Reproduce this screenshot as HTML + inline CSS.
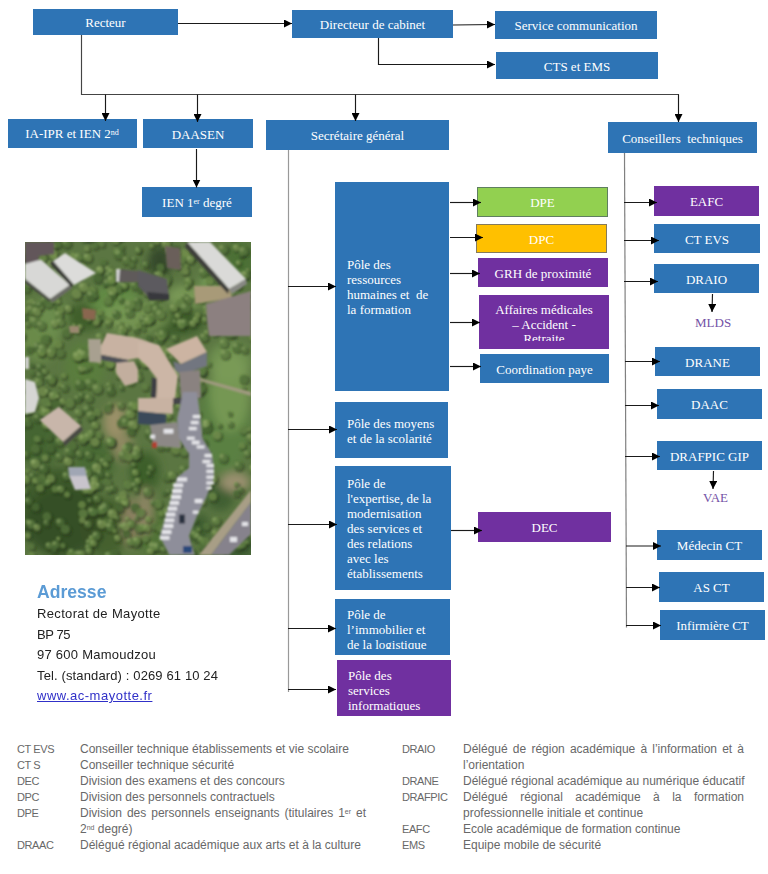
<!DOCTYPE html>
<html><head><meta charset="utf-8">
<style>
html,body{margin:0;padding:0;background:#fff;}
body{width:768px;height:874px;position:relative;overflow:hidden;}
.b{position:absolute;background:#2e74b5;color:#fff;font-family:"Liberation Serif",serif;font-size:13px;display:flex;align-items:center;justify-content:center;text-align:center;white-space:pre;box-sizing:border-box;padding-top:2px;}
.p{background:#7030a0;}
.m{position:absolute;color:#fff;font-family:"Liberation Serif",serif;font-size:13px;line-height:15px;white-space:pre;box-sizing:border-box;background:#2e74b5;overflow:hidden;}
sup{font-size:8px;vertical-align:top;position:relative;top:-2px;}
svg.l{position:absolute;left:0;top:0;}
.lab{position:absolute;color:#7452a6;font-family:"Liberation Serif",serif;font-size:13px;white-space:pre;}
.addr{position:absolute;font-family:"Liberation Sans",sans-serif;color:#222;white-space:pre;}
.lg{position:absolute;font-family:"Liberation Sans",sans-serif;color:#686868;font-size:12px;line-height:16px;white-space:pre;}
.lg.j{white-space:normal;text-align:justify;text-align-last:justify;}
.lg sup{font-size:7px;top:-1px;}
</style></head><body>

<!-- top row -->
<div class="b" style="left:33px;top:9px;width:145px;height:26px;">Recteur</div>
<div class="b" style="left:292px;top:10px;width:161px;height:28px;">Directeur de cabinet</div>
<div class="b" style="left:495px;top:11px;width:162px;height:28px;">Service communication</div>
<div class="b" style="left:496px;top:52px;width:162px;height:27px;">CTS et EMS</div>

<div class="b" style="left:7.5px;top:119px;width:129px;height:28.5px;">IA-IPR et IEN 2<sup>nd</sup></div>
<div class="b" style="left:143px;top:119px;width:110px;height:29px;">DAASEN</div>
<div class="b" style="left:142px;top:187px;width:110px;height:30px;">IEN 1<sup>er</sup> degré</div>
<div class="b" style="left:266px;top:120px;width:183px;height:30px;">Secrétaire général</div>
<div class="b" style="left:608px;top:122px;width:149px;height:31px;">Conseillers  techniques</div>

<!-- poles -->
<div class="m" style="left:335px;top:182px;width:114px;height:209px;padding:75px 0 0 12px;">Pôle des
ressources
humaines et  de
la formation</div>
<div class="m" style="left:335px;top:401.5px;width:113px;height:56.5px;padding:14px 0 0 12px;">Pôle des moyens
et de la scolarité</div>
<div class="m" style="left:335px;top:465.5px;width:116px;height:124.5px;padding:10px 0 0 12px;">Pôle de
l'expertise, de la
modernisation
des services et
des relations
avec les
établissements</div>
<div class="m" style="left:335px;top:599px;width:115px;height:56px;padding:8px 0 0 12px;"><div style="height:41.5px;overflow:hidden;">Pôle de
l’immobilier et
de la logistique</div></div>
<div class="m" style="left:337px;top:660px;width:114px;height:56px;padding:8px 0 0 11px;background:#7030a0;"><div style="height:42.5px;overflow:hidden;">Pôle des
services
informatiques</div></div>

<!-- RH sub boxes -->
<div class="b" style="left:477px;top:187px;width:131px;height:30px;background:#92d050;border:1px solid #5f7f60;">DPE</div>
<div class="b" style="left:476px;top:224px;width:131px;height:29px;background:#ffc000;border:1px solid #857a5a;">DPC</div>
<div class="b p" style="left:478px;top:258px;width:130px;height:29px;">GRH de proximité</div>
<div class="m" style="left:479px;top:295px;width:130px;height:54px;padding:8px 0 0 0;text-align:center;background:#7030a0;line-height:14.5px;"><div style="height:38px;overflow:hidden;">Affaires médicales
– Accident -
Retraite</div></div>
<div class="b" style="left:480px;top:354px;width:129px;height:29px;">Coordination paye</div>
<div class="b p" style="left:478px;top:512px;width:133px;height:30px;">DEC</div>

<!-- CT column -->
<div class="b p" style="left:654px;top:186px;width:105px;height:30px;">EAFC</div>
<div class="b" style="left:654px;top:224px;width:106px;height:29px;">CT EVS</div>
<div class="b" style="left:654px;top:264px;width:105px;height:29px;">DRAIO</div>
<div class="lab" style="left:695px;top:315px;">MLDS</div>
<div class="b" style="left:655px;top:347px;width:105px;height:29px;">DRANE</div>
<div class="b" style="left:657px;top:389px;width:105px;height:30px;">DAAC</div>
<div class="b" style="left:657px;top:441px;width:105px;height:29px;">DRAFPIC GIP</div>
<div class="lab" style="left:703px;top:490px;">VAE</div>
<div class="b" style="left:657px;top:530px;width:105px;height:30px;">Médecin CT</div>
<div class="b" style="left:659px;top:572px;width:105px;height:30px;">AS CT</div>
<div class="b" style="left:660px;top:610px;width:105px;height:30px;">Infirmière CT</div>

<!-- lines -->
<svg class="l" width="768" height="874">
<defs><marker id="a" markerWidth="8" markerHeight="8" refX="8" refY="4" orient="auto" markerUnits="userSpaceOnUse"><path d="M0,0 L8,4 L0,8 z" fill="#000"/></marker></defs>
<g stroke="#1a1a1a" stroke-width="1.15" fill="none">
<line x1="178" y1="23.5" x2="292" y2="23.5" marker-end="url(#a)"/>
<line x1="453" y1="25" x2="495" y2="24.5" marker-end="url(#a)"/>
<polyline points="378.5,38 378.5,64.5 495,64.5" marker-end="url(#a)"/>
<polyline points="81.5,35 81.5,94.5 679,94.5" stroke="#444"/>
<line x1="105.5" y1="94.5" x2="105.5" y2="121" marker-end="url(#a)"/>
<line x1="197.5" y1="94.5" x2="197.5" y2="122" marker-end="url(#a)"/>
<line x1="355.5" y1="94.5" x2="355.5" y2="121" marker-end="url(#a)"/>
<line x1="678.5" y1="94.5" x2="678.5" y2="122" marker-end="url(#a)"/>
<line x1="196.5" y1="149" x2="196.5" y2="187.5" marker-end="url(#a)"/>
</g>
<g stroke="#999" stroke-width="1.2" fill="none">
<line x1="288.5" y1="150" x2="288.5" y2="692"/>
</g>
<g stroke="#1a1a1a" stroke-width="1.15" fill="none">
<line x1="288" y1="286.5" x2="336" y2="286.5" marker-end="url(#a)"/>
<line x1="288" y1="429.5" x2="337" y2="429.5" marker-end="url(#a)"/>
<line x1="288" y1="524.5" x2="337" y2="524.5" marker-end="url(#a)"/>
<line x1="288" y1="628.5" x2="336" y2="628.5" marker-end="url(#a)"/>
<line x1="288" y1="689.5" x2="336" y2="689.5" marker-end="url(#a)"/>
<line x1="450" y1="202.5" x2="481" y2="202.5" marker-end="url(#a)"/>
<line x1="450" y1="237.5" x2="483" y2="237.5" marker-end="url(#a)"/>
<line x1="450" y1="273.5" x2="480" y2="273.5" marker-end="url(#a)"/>
<line x1="450" y1="322.5" x2="480" y2="322.5" marker-end="url(#a)"/>
<line x1="450" y1="366.5" x2="481" y2="366.5" marker-end="url(#a)"/>
<line x1="451" y1="530.5" x2="482" y2="530.5" marker-end="url(#a)"/>
</g>
<g stroke="#808080" stroke-width="1.2" fill="none">
<line x1="624.5" y1="153" x2="626.5" y2="627.5"/>
</g>
<g stroke="#1a1a1a" stroke-width="1.15" fill="none">
<line x1="624" y1="202.5" x2="657" y2="202.5" marker-end="url(#a)"/>
<line x1="624" y1="240.5" x2="659" y2="240.5" marker-end="url(#a)"/>
<line x1="624" y1="281.5" x2="658" y2="281.5" marker-end="url(#a)"/>
<line x1="625" y1="361.5" x2="660" y2="361.5" marker-end="url(#a)"/>
<line x1="625" y1="405.5" x2="659" y2="405.5" marker-end="url(#a)"/>
<line x1="625" y1="456.5" x2="660" y2="456.5" marker-end="url(#a)"/>
<line x1="626" y1="546" x2="661" y2="546" marker-end="url(#a)"/>
<line x1="626" y1="587.5" x2="660" y2="587.5" marker-end="url(#a)"/>
<line x1="626" y1="625.5" x2="661" y2="625.5" marker-end="url(#a)"/>
<line x1="712.5" y1="294" x2="712" y2="312" marker-end="url(#a)"/>
<line x1="713.5" y1="471" x2="713" y2="489" marker-end="url(#a)"/>
</g>
</svg>

<!-- photo placeholder -->
<svg id="photo" style="position:absolute;left:25px;top:242px;" width="226" height="313" viewBox="0 0 226 313">
<defs><filter id="bl" x="-5%" y="-5%" width="110%" height="110%"><feGaussianBlur stdDeviation="0.8"/></filter>
<filter id="bl3" x="-5%" y="-5%" width="110%" height="110%"><feGaussianBlur stdDeviation="1.1"/></filter>
<filter id="bl2" x="-20%" y="-20%" width="140%" height="140%"><feGaussianBlur stdDeviation="4"/></filter>
<clipPath id="cp"><rect width="226" height="313"/></clipPath></defs>
<g clip-path="url(#cp)">
<rect width="226" height="313" fill="#5b7642"/>
<g filter="url(#bl2)">
<!-- vegetation tonal patches -->
<ellipse cx="35" cy="270" rx="40" ry="45" fill="#3c5a2a"/>
<ellipse cx="80" cy="285" rx="25" ry="30" fill="#45602e"/>
<ellipse cx="15" cy="200" rx="22" ry="25" fill="#446530"/>
<ellipse cx="15" cy="90" rx="20" ry="30" fill="#6a8a48"/>
<ellipse cx="60" cy="75" rx="18" ry="14" fill="#3f5f2c"/>
<ellipse cx="135" cy="20" rx="12" ry="16" fill="#34482a"/>
<ellipse cx="90" cy="60" rx="25" ry="18" fill="#628a44"/>
<ellipse cx="150" cy="80" rx="30" ry="14" fill="#3d5c2c"/>
<ellipse cx="60" cy="125" rx="20" ry="25" fill="#5a7d3e"/>
<ellipse cx="70" cy="220" rx="20" ry="22" fill="#4a6a34"/>
<ellipse cx="120" cy="230" rx="15" ry="20" fill="#3e5e2c"/>
<ellipse cx="125" cy="285" rx="14" ry="25" fill="#4f7236"/>
<ellipse cx="200" cy="180" rx="26" ry="50" fill="#5a8042"/>
<ellipse cx="205" cy="120" rx="22" ry="20" fill="#6e9050"/>
<ellipse cx="185" cy="40" rx="10" ry="12" fill="#749a56"/>
<ellipse cx="215" cy="20" rx="15" ry="20" fill="#4c7036"/>
<ellipse cx="195" cy="255" rx="14" ry="14" fill="#3f5e30"/>
<ellipse cx="175" cy="285" rx="10" ry="14" fill="#3f5e30"/>
<ellipse cx="212" cy="305" rx="18" ry="14" fill="#3e5c30"/>
<ellipse cx="90" cy="180" rx="12" ry="18" fill="#9a9068"/>
<ellipse cx="98" cy="205" rx="10" ry="14" fill="#8e8862"/>
<ellipse cx="105" cy="280" rx="8" ry="25" fill="#8a8060"/>
<ellipse cx="120" cy="270" rx="8" ry="25" fill="#8a8462"/>
<ellipse cx="210" cy="240" rx="15" ry="10" fill="#9a9070"/>
<ellipse cx="110" cy="75" rx="35" ry="16" fill="#7a9a56" opacity="0.8"/>
<ellipse cx="160" cy="55" rx="18" ry="12" fill="#80a05a" opacity="0.8"/>
<ellipse cx="205" cy="150" rx="20" ry="40" fill="#7c9c58" opacity="0.8"/>
<ellipse cx="40" cy="280" rx="40" ry="35" fill="#334a26" opacity="0.7"/>
<ellipse cx="25" cy="75" rx="18" ry="20" fill="#6e8e50" opacity="0.7"/>

</g>
<g filter="url(#bl3)"><circle cx="143.4" cy="236.3" r="5.3" fill="#223018" opacity="0.45"/><circle cx="106.3" cy="301.4" r="4.8" fill="#223018" opacity="0.45"/><circle cx="209.0" cy="33.3" r="4.1" fill="#223018" opacity="0.45"/><circle cx="54.6" cy="172.3" r="4.5" fill="#223018" opacity="0.45"/><circle cx="-0.5" cy="66.7" r="3.5" fill="#223018" opacity="0.45"/><circle cx="212.7" cy="244.0" r="3.1" fill="#223018" opacity="0.45"/><circle cx="-3.2" cy="278.2" r="3.2" fill="#223018" opacity="0.45"/><circle cx="47.3" cy="314.0" r="5.6" fill="#223018" opacity="0.45"/><circle cx="64.7" cy="307.3" r="4.4" fill="#223018" opacity="0.45"/><circle cx="156.4" cy="62.8" r="5.8" fill="#223018" opacity="0.45"/><circle cx="159.4" cy="308.9" r="5.6" fill="#223018" opacity="0.45"/><circle cx="66.9" cy="113.4" r="3.1" fill="#223018" opacity="0.45"/><circle cx="30.8" cy="17.7" r="3.6" fill="#223018" opacity="0.45"/><circle cx="138.7" cy="-2.2" r="4.9" fill="#223018" opacity="0.45"/><circle cx="76.1" cy="96.8" r="5.4" fill="#223018" opacity="0.45"/><circle cx="109.9" cy="98.7" r="4.2" fill="#223018" opacity="0.45"/><circle cx="162.7" cy="15.1" r="5.9" fill="#223018" opacity="0.45"/><circle cx="1.8" cy="238.9" r="5.5" fill="#223018" opacity="0.45"/><circle cx="0.7" cy="251.1" r="3.8" fill="#223018" opacity="0.45"/><circle cx="132.9" cy="-0.4" r="2.7" fill="#223018" opacity="0.45"/><circle cx="39.1" cy="305.2" r="3.2" fill="#223018" opacity="0.45"/><circle cx="174.8" cy="297.0" r="5.8" fill="#223018" opacity="0.45"/><circle cx="77.7" cy="111.3" r="4.3" fill="#223018" opacity="0.45"/><circle cx="179.4" cy="31.6" r="5.1" fill="#223018" opacity="0.45"/><circle cx="199.3" cy="8.5" r="5.8" fill="#223018" opacity="0.45"/><circle cx="17.9" cy="106.8" r="4.6" fill="#223018" opacity="0.45"/><circle cx="213.1" cy="106.5" r="5.7" fill="#223018" opacity="0.45"/><circle cx="125.1" cy="97.6" r="3.6" fill="#223018" opacity="0.45"/><circle cx="38.3" cy="22.0" r="3.0" fill="#223018" opacity="0.45"/><circle cx="159.0" cy="318.6" r="3.1" fill="#223018" opacity="0.45"/><circle cx="7.9" cy="315.4" r="4.4" fill="#223018" opacity="0.45"/><circle cx="92.2" cy="73.4" r="4.6" fill="#223018" opacity="0.45"/><circle cx="212.6" cy="7.3" r="4.2" fill="#223018" opacity="0.45"/><circle cx="194.3" cy="38.9" r="5.1" fill="#223018" opacity="0.45"/><circle cx="145.2" cy="251.2" r="2.9" fill="#223018" opacity="0.45"/><circle cx="99.0" cy="44.9" r="5.5" fill="#223018" opacity="0.45"/><circle cx="66.0" cy="143.1" r="6.0" fill="#223018" opacity="0.45"/><circle cx="197.5" cy="312.0" r="4.1" fill="#223018" opacity="0.45"/><circle cx="111.6" cy="232.3" r="4.2" fill="#223018" opacity="0.45"/><circle cx="65.1" cy="127.1" r="3.0" fill="#223018" opacity="0.45"/><circle cx="85.4" cy="315.9" r="5.9" fill="#223018" opacity="0.45"/><circle cx="144.4" cy="158.0" r="3.7" fill="#223018" opacity="0.45"/><circle cx="17.4" cy="84.7" r="5.2" fill="#223018" opacity="0.45"/><circle cx="201.1" cy="113.4" r="5.3" fill="#223018" opacity="0.45"/><circle cx="160.3" cy="211.2" r="5.2" fill="#223018" opacity="0.45"/><circle cx="82.2" cy="224.2" r="3.5" fill="#223018" opacity="0.45"/><circle cx="111.0" cy="245.3" r="4.9" fill="#223018" opacity="0.45"/><circle cx="65.7" cy="302.1" r="4.8" fill="#223018" opacity="0.45"/><circle cx="133.4" cy="0.4" r="4.4" fill="#223018" opacity="0.45"/><circle cx="55.6" cy="213.6" r="4.1" fill="#223018" opacity="0.45"/><circle cx="148.4" cy="235.0" r="5.4" fill="#223018" opacity="0.45"/><circle cx="79.0" cy="269.0" r="5.5" fill="#223018" opacity="0.45"/><circle cx="158.8" cy="312.0" r="5.8" fill="#223018" opacity="0.45"/><circle cx="118.7" cy="167.7" r="3.1" fill="#223018" opacity="0.45"/><circle cx="193.8" cy="299.5" r="4.2" fill="#223018" opacity="0.45"/><circle cx="159.6" cy="229.2" r="5.1" fill="#223018" opacity="0.45"/><circle cx="37.0" cy="248.8" r="4.5" fill="#223018" opacity="0.45"/><circle cx="153.5" cy="132.6" r="4.7" fill="#223018" opacity="0.45"/><circle cx="179.2" cy="202.4" r="5.0" fill="#223018" opacity="0.45"/><circle cx="2.9" cy="48.4" r="4.0" fill="#223018" opacity="0.45"/><circle cx="149.8" cy="67.4" r="4.9" fill="#223018" opacity="0.45"/><circle cx="145.3" cy="10.2" r="4.2" fill="#223018" opacity="0.45"/><circle cx="49.8" cy="14.2" r="3.0" fill="#223018" opacity="0.45"/><circle cx="71.3" cy="55.3" r="3.2" fill="#223018" opacity="0.45"/><circle cx="4.8" cy="147.0" r="3.8" fill="#223018" opacity="0.45"/><circle cx="140.8" cy="187.3" r="3.3" fill="#223018" opacity="0.45"/><circle cx="209.6" cy="-3.1" r="3.9" fill="#223018" opacity="0.45"/><circle cx="62.1" cy="129.1" r="2.9" fill="#223018" opacity="0.45"/><circle cx="18.8" cy="172.8" r="3.7" fill="#223018" opacity="0.45"/><circle cx="133.5" cy="306.2" r="5.4" fill="#223018" opacity="0.45"/><circle cx="95.3" cy="259.3" r="4.7" fill="#223018" opacity="0.45"/><circle cx="83.6" cy="42.6" r="4.6" fill="#223018" opacity="0.45"/><circle cx="129.5" cy="305.9" r="5.9" fill="#223018" opacity="0.45"/><circle cx="140.0" cy="110.1" r="5.6" fill="#223018" opacity="0.45"/><circle cx="-3.4" cy="31.6" r="4.5" fill="#223018" opacity="0.45"/><circle cx="141.6" cy="42.1" r="4.7" fill="#223018" opacity="0.45"/><circle cx="65.2" cy="310.8" r="3.8" fill="#223018" opacity="0.45"/><circle cx="223.2" cy="291.8" r="4.6" fill="#223018" opacity="0.45"/><circle cx="57.7" cy="313.6" r="4.2" fill="#223018" opacity="0.45"/><circle cx="94.5" cy="99.8" r="5.9" fill="#223018" opacity="0.45"/><circle cx="112.5" cy="89.2" r="4.2" fill="#223018" opacity="0.45"/><circle cx="25.2" cy="197.5" r="4.1" fill="#223018" opacity="0.45"/><circle cx="65.6" cy="249.2" r="5.4" fill="#223018" opacity="0.45"/><circle cx="-0.5" cy="168.7" r="3.5" fill="#223018" opacity="0.45"/><circle cx="217.1" cy="249.3" r="3.4" fill="#223018" opacity="0.45"/><circle cx="59.6" cy="46.7" r="6.0" fill="#223018" opacity="0.45"/><circle cx="65.6" cy="193.1" r="4.2" fill="#223018" opacity="0.45"/><circle cx="148.6" cy="191.7" r="5.1" fill="#223018" opacity="0.45"/><circle cx="24.3" cy="242.3" r="3.6" fill="#223018" opacity="0.45"/><circle cx="122.3" cy="105.3" r="3.5" fill="#223018" opacity="0.45"/><circle cx="121.4" cy="146.7" r="3.8" fill="#223018" opacity="0.45"/><circle cx="172.2" cy="187.5" r="2.6" fill="#223018" opacity="0.45"/><circle cx="56.0" cy="143.9" r="5.7" fill="#223018" opacity="0.45"/><circle cx="206.0" cy="172.9" r="2.6" fill="#223018" opacity="0.45"/><circle cx="97.3" cy="182.6" r="5.0" fill="#223018" opacity="0.45"/><circle cx="145.6" cy="152.3" r="5.7" fill="#223018" opacity="0.45"/><circle cx="87.4" cy="123.3" r="5.5" fill="#223018" opacity="0.45"/><circle cx="42.8" cy="92.5" r="5.4" fill="#223018" opacity="0.45"/><circle cx="12.0" cy="266.8" r="4.9" fill="#223018" opacity="0.45"/><circle cx="98.5" cy="89.2" r="5.2" fill="#223018" opacity="0.45"/><circle cx="211.3" cy="42.8" r="4.2" fill="#223018" opacity="0.45"/><circle cx="126.0" cy="157.5" r="3.7" fill="#223018" opacity="0.45"/><circle cx="32.6" cy="185.9" r="5.3" fill="#223018" opacity="0.45"/><circle cx="12.5" cy="71.0" r="5.4" fill="#223018" opacity="0.45"/><circle cx="183.3" cy="211.0" r="2.6" fill="#223018" opacity="0.45"/><circle cx="166.9" cy="312.8" r="6.0" fill="#223018" opacity="0.45"/><circle cx="161.9" cy="12.5" r="5.4" fill="#223018" opacity="0.45"/><circle cx="48.1" cy="205.3" r="5.8" fill="#223018" opacity="0.45"/><circle cx="164.5" cy="40.2" r="3.5" fill="#223018" opacity="0.45"/><circle cx="213.0" cy="45.1" r="4.6" fill="#223018" opacity="0.45"/><circle cx="94.1" cy="48.8" r="4.7" fill="#223018" opacity="0.45"/><circle cx="6.7" cy="31.7" r="3.8" fill="#223018" opacity="0.45"/><circle cx="13.4" cy="15.3" r="4.5" fill="#223018" opacity="0.45"/><circle cx="171.6" cy="280.4" r="3.0" fill="#223018" opacity="0.45"/><circle cx="98.3" cy="98.3" r="4.6" fill="#223018" opacity="0.45"/><circle cx="111.9" cy="299.8" r="3.8" fill="#223018" opacity="0.45"/><circle cx="9.6" cy="221.9" r="3.0" fill="#223018" opacity="0.45"/><circle cx="145.4" cy="160.1" r="5.7" fill="#223018" opacity="0.45"/><circle cx="127.4" cy="197.2" r="3.4" fill="#223018" opacity="0.45"/><circle cx="126.6" cy="78.8" r="5.1" fill="#223018" opacity="0.45"/><circle cx="118.4" cy="39.9" r="3.3" fill="#223018" opacity="0.45"/><circle cx="84.0" cy="234.7" r="3.1" fill="#223018" opacity="0.45"/><circle cx="164.7" cy="208.3" r="2.8" fill="#223018" opacity="0.45"/><circle cx="154.0" cy="26.2" r="2.9" fill="#223018" opacity="0.45"/><circle cx="136.6" cy="73.8" r="5.6" fill="#223018" opacity="0.45"/><circle cx="109.8" cy="101.1" r="5.3" fill="#223018" opacity="0.45"/><circle cx="3.4" cy="230.9" r="2.7" fill="#223018" opacity="0.45"/><circle cx="32.0" cy="304.2" r="4.9" fill="#223018" opacity="0.45"/><circle cx="49.0" cy="34.2" r="5.9" fill="#223018" opacity="0.45"/><circle cx="153.4" cy="261.8" r="3.0" fill="#223018" opacity="0.45"/><circle cx="143.9" cy="111.1" r="3.3" fill="#223018" opacity="0.45"/><circle cx="75.1" cy="194.9" r="3.7" fill="#223018" opacity="0.45"/><circle cx="87.4" cy="40.8" r="5.4" fill="#223018" opacity="0.45"/><circle cx="149.3" cy="256.6" r="4.0" fill="#223018" opacity="0.45"/><circle cx="171.1" cy="124.4" r="2.8" fill="#223018" opacity="0.45"/><circle cx="4.2" cy="62.1" r="2.6" fill="#223018" opacity="0.45"/><circle cx="107.4" cy="284.1" r="4.7" fill="#223018" opacity="0.45"/><circle cx="97.6" cy="147.1" r="2.8" fill="#223018" opacity="0.45"/><circle cx="32.9" cy="48.1" r="3.8" fill="#223018" opacity="0.45"/><circle cx="87.4" cy="281.1" r="3.0" fill="#223018" opacity="0.45"/><circle cx="56.4" cy="86.3" r="3.1" fill="#223018" opacity="0.45"/><circle cx="64.1" cy="72.7" r="4.2" fill="#223018" opacity="0.45"/><circle cx="4.0" cy="295.3" r="3.8" fill="#223018" opacity="0.45"/><circle cx="219.5" cy="34.8" r="4.8" fill="#223018" opacity="0.45"/><circle cx="65.1" cy="214.6" r="5.1" fill="#223018" opacity="0.45"/><circle cx="34.9" cy="61.6" r="2.6" fill="#223018" opacity="0.45"/><circle cx="50.8" cy="22.0" r="3.9" fill="#223018" opacity="0.45"/><circle cx="63.2" cy="233.2" r="5.0" fill="#223018" opacity="0.45"/><circle cx="35.0" cy="74.4" r="4.9" fill="#223018" opacity="0.45"/><circle cx="218.4" cy="205.3" r="4.0" fill="#223018" opacity="0.45"/><circle cx="-2.1" cy="16.4" r="5.2" fill="#223018" opacity="0.45"/><circle cx="93.2" cy="11.2" r="4.4" fill="#223018" opacity="0.45"/><circle cx="13.2" cy="287.0" r="4.2" fill="#223018" opacity="0.45"/><circle cx="217.2" cy="14.1" r="3.4" fill="#223018" opacity="0.45"/><circle cx="8.3" cy="125.0" r="2.7" fill="#223018" opacity="0.45"/><circle cx="56.7" cy="128.3" r="3.6" fill="#223018" opacity="0.45"/><circle cx="8.5" cy="8.8" r="5.9" fill="#223018" opacity="0.45"/><circle cx="38.7" cy="161.0" r="3.9" fill="#223018" opacity="0.45"/><circle cx="121.8" cy="23.9" r="3.6" fill="#223018" opacity="0.45"/><circle cx="21.9" cy="171.7" r="5.7" fill="#223018" opacity="0.45"/><circle cx="137.6" cy="273.4" r="3.3" fill="#223018" opacity="0.45"/><circle cx="0.5" cy="171.0" r="4.2" fill="#223018" opacity="0.45"/><circle cx="131.3" cy="118.4" r="4.7" fill="#223018" opacity="0.45"/><circle cx="167.7" cy="291.6" r="3.6" fill="#223018" opacity="0.45"/><circle cx="102.4" cy="263.6" r="3.3" fill="#223018" opacity="0.45"/><circle cx="23.7" cy="97.4" r="2.8" fill="#223018" opacity="0.45"/><circle cx="178.7" cy="261.4" r="3.6" fill="#223018" opacity="0.45"/><circle cx="27.0" cy="23.2" r="3.4" fill="#223018" opacity="0.45"/><circle cx="16.3" cy="135.2" r="4.5" fill="#223018" opacity="0.45"/><circle cx="54.3" cy="16.5" r="5.0" fill="#223018" opacity="0.45"/><circle cx="7.7" cy="61.3" r="3.5" fill="#223018" opacity="0.45"/><circle cx="84.6" cy="28.5" r="4.0" fill="#223018" opacity="0.45"/><circle cx="70.5" cy="239.7" r="4.4" fill="#223018" opacity="0.45"/><circle cx="100.8" cy="260.5" r="4.8" fill="#223018" opacity="0.45"/><circle cx="36.4" cy="81.5" r="4.9" fill="#223018" opacity="0.45"/><circle cx="63.8" cy="17.2" r="5.2" fill="#223018" opacity="0.45"/><circle cx="127.9" cy="5.6" r="2.7" fill="#223018" opacity="0.45"/><circle cx="27.1" cy="112.1" r="5.5" fill="#223018" opacity="0.45"/><circle cx="81.9" cy="103.4" r="2.5" fill="#223018" opacity="0.45"/><circle cx="134.3" cy="263.8" r="5.0" fill="#223018" opacity="0.45"/><circle cx="18.9" cy="168.0" r="3.1" fill="#223018" opacity="0.45"/><circle cx="163.8" cy="140.8" r="5.8" fill="#223018" opacity="0.45"/><circle cx="184.0" cy="34.9" r="3.6" fill="#223018" opacity="0.45"/><circle cx="105.2" cy="136.9" r="4.0" fill="#223018" opacity="0.45"/><circle cx="177.5" cy="299.1" r="4.4" fill="#223018" opacity="0.45"/><circle cx="225.2" cy="189.2" r="2.9" fill="#223018" opacity="0.45"/><circle cx="95.4" cy="13.6" r="5.9" fill="#223018" opacity="0.45"/><circle cx="4.2" cy="183.1" r="4.2" fill="#223018" opacity="0.45"/><circle cx="43.9" cy="178.4" r="3.7" fill="#223018" opacity="0.45"/><circle cx="173.7" cy="74.7" r="3.7" fill="#223018" opacity="0.45"/><circle cx="55.0" cy="314.0" r="5.4" fill="#223018" opacity="0.45"/><circle cx="19.7" cy="228.5" r="5.7" fill="#223018" opacity="0.45"/><circle cx="43.4" cy="254.1" r="3.6" fill="#223018" opacity="0.45"/><circle cx="157.6" cy="275.5" r="4.7" fill="#223018" opacity="0.45"/><circle cx="134.9" cy="56.4" r="3.9" fill="#223018" opacity="0.45"/><circle cx="71.3" cy="5.4" r="3.6" fill="#223018" opacity="0.45"/><circle cx="86.7" cy="150.5" r="5.0" fill="#223018" opacity="0.45"/><circle cx="90.6" cy="314.0" r="5.4" fill="#223018" opacity="0.45"/><circle cx="119.6" cy="88.5" r="2.8" fill="#223018" opacity="0.45"/><circle cx="17.0" cy="111.6" r="4.5" fill="#223018" opacity="0.45"/><circle cx="175.7" cy="227.5" r="3.6" fill="#223018" opacity="0.45"/><circle cx="215.7" cy="85.4" r="5.0" fill="#223018" opacity="0.45"/><circle cx="13.4" cy="240.0" r="4.8" fill="#223018" opacity="0.45"/><circle cx="222.2" cy="286.5" r="4.9" fill="#223018" opacity="0.45"/><circle cx="118.3" cy="286.2" r="3.3" fill="#223018" opacity="0.45"/><circle cx="88.5" cy="54.2" r="4.8" fill="#223018" opacity="0.45"/><circle cx="208.7" cy="290.7" r="4.6" fill="#223018" opacity="0.45"/><circle cx="87.7" cy="31.9" r="4.9" fill="#223018" opacity="0.45"/><circle cx="127.0" cy="227.7" r="3.8" fill="#223018" opacity="0.45"/><circle cx="205.7" cy="65.4" r="3.6" fill="#223018" opacity="0.45"/><circle cx="59.6" cy="197.7" r="5.6" fill="#223018" opacity="0.45"/><circle cx="35.9" cy="201.1" r="5.2" fill="#223018" opacity="0.45"/><circle cx="49.4" cy="16.9" r="4.5" fill="#223018" opacity="0.45"/><circle cx="192.3" cy="280.5" r="5.0" fill="#223018" opacity="0.45"/><circle cx="94.8" cy="134.1" r="4.4" fill="#223018" opacity="0.45"/><circle cx="209.9" cy="94.4" r="3.5" fill="#223018" opacity="0.45"/><circle cx="139.3" cy="308.9" r="3.2" fill="#223018" opacity="0.45"/><circle cx="3.6" cy="34.0" r="4.5" fill="#223018" opacity="0.45"/><circle cx="138.8" cy="56.1" r="3.2" fill="#223018" opacity="0.45"/><circle cx="136.7" cy="205.5" r="4.9" fill="#223018" opacity="0.45"/><circle cx="168.4" cy="16.5" r="4.2" fill="#223018" opacity="0.45"/><circle cx="193.4" cy="305.9" r="3.6" fill="#223018" opacity="0.45"/><circle cx="160.8" cy="268.3" r="4.2" fill="#223018" opacity="0.45"/><circle cx="20.2" cy="59.2" r="3.0" fill="#223018" opacity="0.45"/><circle cx="18.3" cy="45.8" r="4.7" fill="#223018" opacity="0.45"/><circle cx="21.2" cy="241.6" r="5.1" fill="#223018" opacity="0.45"/><circle cx="189.1" cy="256.3" r="5.0" fill="#223018" opacity="0.45"/><circle cx="214.5" cy="305.8" r="4.7" fill="#223018" opacity="0.45"/><circle cx="224.2" cy="30.1" r="2.9" fill="#223018" opacity="0.45"/><circle cx="11.6" cy="63.4" r="3.8" fill="#223018" opacity="0.45"/><circle cx="104.6" cy="216.5" r="5.1" fill="#223018" opacity="0.45"/><circle cx="16.2" cy="126.9" r="4.4" fill="#223018" opacity="0.45"/><circle cx="84.9" cy="34.7" r="4.6" fill="#223018" opacity="0.45"/><circle cx="84.8" cy="217.5" r="4.2" fill="#223018" opacity="0.45"/><circle cx="223.6" cy="301.9" r="2.8" fill="#223018" opacity="0.45"/><circle cx="175.7" cy="229.7" r="3.5" fill="#223018" opacity="0.45"/><circle cx="24.0" cy="151.4" r="3.7" fill="#223018" opacity="0.45"/><circle cx="170.4" cy="293.3" r="3.8" fill="#223018" opacity="0.45"/><circle cx="65.0" cy="157.8" r="4.9" fill="#223018" opacity="0.45"/><circle cx="182.6" cy="182.6" r="3.5" fill="#223018" opacity="0.45"/><circle cx="75.9" cy="270.6" r="4.3" fill="#223018" opacity="0.45"/><circle cx="8.3" cy="132.6" r="3.3" fill="#223018" opacity="0.45"/><circle cx="153.6" cy="20.4" r="3.4" fill="#223018" opacity="0.45"/><circle cx="19.1" cy="151.0" r="5.9" fill="#223018" opacity="0.45"/><circle cx="124.2" cy="121.5" r="5.8" fill="#223018" opacity="0.45"/><circle cx="18.1" cy="111.6" r="5.3" fill="#223018" opacity="0.45"/><circle cx="-2.4" cy="244.1" r="3.8" fill="#223018" opacity="0.45"/><circle cx="0.3" cy="77.7" r="4.1" fill="#223018" opacity="0.45"/><circle cx="86.7" cy="163.6" r="2.7" fill="#223018" opacity="0.45"/><circle cx="48.0" cy="311.4" r="4.0" fill="#223018" opacity="0.45"/><circle cx="107.8" cy="24.3" r="3.5" fill="#223018" opacity="0.45"/><circle cx="89.1" cy="248.1" r="4.0" fill="#223018" opacity="0.45"/><circle cx="136.5" cy="288.2" r="4.8" fill="#223018" opacity="0.45"/><circle cx="146.5" cy="8.3" r="2.6" fill="#223018" opacity="0.45"/><circle cx="178.0" cy="130.2" r="5.6" fill="#223018" opacity="0.45"/><circle cx="191.3" cy="292.4" r="3.8" fill="#223018" opacity="0.45"/><circle cx="232.2" cy="241.0" r="5.6" fill="#223018" opacity="0.45"/><circle cx="31.4" cy="248.9" r="4.0" fill="#223018" opacity="0.45"/><circle cx="225.8" cy="317.8" r="3.3" fill="#223018" opacity="0.45"/><circle cx="95.9" cy="84.2" r="4.1" fill="#223018" opacity="0.45"/><circle cx="64.0" cy="212.0" r="2.9" fill="#223018" opacity="0.45"/><circle cx="36.3" cy="144.5" r="2.8" fill="#223018" opacity="0.45"/><circle cx="86.4" cy="286.6" r="5.6" fill="#223018" opacity="0.45"/><circle cx="42.8" cy="2.7" r="5.4" fill="#223018" opacity="0.45"/><circle cx="213.6" cy="299.5" r="2.6" fill="#223018" opacity="0.45"/><circle cx="40.0" cy="135.3" r="3.4" fill="#223018" opacity="0.45"/><circle cx="174.3" cy="117.2" r="5.2" fill="#223018" opacity="0.45"/><circle cx="32.3" cy="164.1" r="5.9" fill="#223018" opacity="0.45"/><circle cx="162.1" cy="25.8" r="2.9" fill="#223018" opacity="0.45"/><circle cx="148.3" cy="117.8" r="3.8" fill="#223018" opacity="0.45"/><circle cx="109.1" cy="184.6" r="5.9" fill="#223018" opacity="0.45"/><circle cx="53.3" cy="180.4" r="3.4" fill="#223018" opacity="0.45"/><circle cx="125.1" cy="233.0" r="3.0" fill="#223018" opacity="0.45"/><circle cx="110.0" cy="224.7" r="2.5" fill="#223018" opacity="0.45"/><circle cx="178.4" cy="132.0" r="4.3" fill="#223018" opacity="0.45"/><circle cx="140.5" cy="252.8" r="2.7" fill="#223018" opacity="0.45"/><circle cx="114.5" cy="9.1" r="3.8" fill="#223018" opacity="0.45"/><circle cx="78.0" cy="3.6" r="3.5" fill="#223018" opacity="0.45"/><circle cx="102.6" cy="208.2" r="5.7" fill="#223018" opacity="0.45"/><circle cx="83.8" cy="167.9" r="5.0" fill="#223018" opacity="0.45"/><circle cx="217.6" cy="303.4" r="6.0" fill="#223018" opacity="0.45"/><circle cx="67.6" cy="50.5" r="5.8" fill="#223018" opacity="0.45"/><circle cx="14.7" cy="141.6" r="5.1" fill="#223018" opacity="0.45"/><circle cx="121.2" cy="122.3" r="5.7" fill="#223018" opacity="0.45"/><circle cx="67.0" cy="174.9" r="5.4" fill="#223018" opacity="0.45"/><circle cx="29.0" cy="110.1" r="4.2" fill="#223018" opacity="0.45"/><circle cx="130.0" cy="63.7" r="4.1" fill="#223018" opacity="0.45"/><circle cx="10.5" cy="25.1" r="3.7" fill="#223018" opacity="0.45"/><circle cx="30.3" cy="309.2" r="3.4" fill="#223018" opacity="0.45"/><circle cx="61.5" cy="249.8" r="5.1" fill="#223018" opacity="0.45"/><circle cx="58.3" cy="264.5" r="4.7" fill="#223018" opacity="0.45"/><circle cx="88.1" cy="199.8" r="3.4" fill="#223018" opacity="0.45"/><circle cx="58.6" cy="279.8" r="4.0" fill="#223018" opacity="0.45"/><circle cx="208.2" cy="53.8" r="3.0" fill="#223018" opacity="0.45"/><circle cx="8.7" cy="235.6" r="4.5" fill="#223018" opacity="0.45"/><circle cx="-1.3" cy="10.7" r="5.4" fill="#223018" opacity="0.45"/><circle cx="113.1" cy="278.1" r="2.6" fill="#223018" opacity="0.45"/><circle cx="135.4" cy="34.6" r="5.0" fill="#223018" opacity="0.45"/><circle cx="140.7" cy="194.4" r="3.3" fill="#223018" opacity="0.45"/><circle cx="220.4" cy="32.6" r="2.7" fill="#223018" opacity="0.45"/><circle cx="157.8" cy="26.7" r="2.7" fill="#223018" opacity="0.45"/><circle cx="105.0" cy="206.3" r="5.6" fill="#223018" opacity="0.45"/><circle cx="166.5" cy="19.1" r="4.8" fill="#223018" opacity="0.45"/><circle cx="66.9" cy="-2.8" r="5.2" fill="#223018" opacity="0.45"/><circle cx="118.1" cy="288.0" r="4.1" fill="#223018" opacity="0.45"/><circle cx="33.1" cy="66.6" r="3.4" fill="#223018" opacity="0.45"/><circle cx="219.8" cy="63.0" r="2.8" fill="#223018" opacity="0.45"/><circle cx="79.6" cy="22.3" r="4.0" fill="#223018" opacity="0.45"/><circle cx="143.1" cy="206.9" r="3.1" fill="#223018" opacity="0.45"/><circle cx="29.2" cy="155.4" r="4.9" fill="#223018" opacity="0.45"/><circle cx="101.9" cy="181.9" r="5.7" fill="#223018" opacity="0.45"/><circle cx="30.6" cy="83.2" r="4.2" fill="#223018" opacity="0.45"/><circle cx="122.9" cy="287.5" r="4.4" fill="#223018" opacity="0.45"/><circle cx="152.7" cy="132.2" r="5.2" fill="#223018" opacity="0.45"/><circle cx="193.7" cy="91.5" r="2.9" fill="#223018" opacity="0.45"/><circle cx="57.6" cy="112.2" r="5.6" fill="#223018" opacity="0.45"/><circle cx="58.8" cy="200.0" r="4.7" fill="#223018" opacity="0.45"/><circle cx="222.1" cy="34.3" r="5.2" fill="#223018" opacity="0.45"/><circle cx="75.8" cy="30.0" r="4.7" fill="#223018" opacity="0.45"/><circle cx="195.7" cy="184.8" r="2.7" fill="#223018" opacity="0.45"/><circle cx="87.1" cy="202.2" r="5.0" fill="#223018" opacity="0.45"/><circle cx="57.9" cy="128.6" r="3.7" fill="#223018" opacity="0.45"/><circle cx="19.0" cy="17.5" r="5.0" fill="#223018" opacity="0.45"/><circle cx="93.3" cy="277.6" r="2.7" fill="#223018" opacity="0.45"/><circle cx="67.5" cy="54.9" r="5.8" fill="#223018" opacity="0.45"/><circle cx="183.0" cy="286.2" r="4.3" fill="#223018" opacity="0.45"/><circle cx="21.0" cy="131.1" r="3.3" fill="#223018" opacity="0.45"/><circle cx="2.7" cy="179.2" r="3.5" fill="#223018" opacity="0.45"/><circle cx="21.9" cy="161.9" r="5.8" fill="#223018" opacity="0.45"/><circle cx="219.7" cy="147.3" r="2.9" fill="#223018" opacity="0.45"/><circle cx="23.5" cy="170.3" r="2.8" fill="#223018" opacity="0.45"/><circle cx="126.4" cy="311.0" r="4.0" fill="#223018" opacity="0.45"/><circle cx="45.8" cy="162.9" r="5.7" fill="#223018" opacity="0.45"/><circle cx="86.5" cy="201.4" r="5.7" fill="#223018" opacity="0.45"/><circle cx="73.3" cy="258.6" r="4.4" fill="#223018" opacity="0.45"/><circle cx="29.3" cy="14.0" r="5.8" fill="#223018" opacity="0.45"/><circle cx="106.4" cy="139.8" r="5.7" fill="#223018" opacity="0.45"/><circle cx="131.9" cy="158.3" r="3.5" fill="#223018" opacity="0.45"/><circle cx="172.0" cy="79.5" r="4.1" fill="#223018" opacity="0.45"/><circle cx="175.4" cy="192.1" r="3.0" fill="#223018" opacity="0.45"/><circle cx="44.2" cy="221.2" r="5.1" fill="#223018" opacity="0.45"/><circle cx="20.6" cy="318.9" r="3.0" fill="#223018" opacity="0.45"/><circle cx="36.0" cy="25.7" r="4.1" fill="#223018" opacity="0.45"/><circle cx="142.6" cy="273.6" r="3.1" fill="#223018" opacity="0.45"/><circle cx="161.3" cy="30.7" r="4.5" fill="#223018" opacity="0.45"/><circle cx="55.8" cy="111.8" r="2.7" fill="#223018" opacity="0.45"/><circle cx="136.0" cy="203.1" r="4.2" fill="#223018" opacity="0.45"/><circle cx="202.6" cy="293.7" r="3.5" fill="#223018" opacity="0.45"/><circle cx="75.2" cy="280.0" r="3.0" fill="#223018" opacity="0.45"/><circle cx="95.5" cy="130.6" r="5.9" fill="#223018" opacity="0.45"/><circle cx="26.7" cy="208.3" r="5.1" fill="#223018" opacity="0.45"/><circle cx="168.3" cy="-3.0" r="5.8" fill="#223018" opacity="0.45"/><circle cx="70.1" cy="272.2" r="4.8" fill="#223018" opacity="0.45"/><circle cx="95.7" cy="267.3" r="4.9" fill="#223018" opacity="0.45"/><circle cx="76.6" cy="233.1" r="4.3" fill="#223018" opacity="0.45"/><circle cx="164.3" cy="195.1" r="5.3" fill="#223018" opacity="0.45"/><circle cx="34.0" cy="156.4" r="2.5" fill="#223018" opacity="0.45"/><circle cx="183.0" cy="245.9" r="5.4" fill="#223018" opacity="0.45"/><circle cx="6.6" cy="169.6" r="4.2" fill="#223018" opacity="0.45"/><circle cx="24.6" cy="62.1" r="5.9" fill="#223018" opacity="0.45"/><circle cx="197.6" cy="73.6" r="5.4" fill="#223018" opacity="0.45"/><circle cx="150.0" cy="121.0" r="4.8" fill="#223018" opacity="0.45"/><circle cx="50.4" cy="85.1" r="2.5" fill="#223018" opacity="0.45"/><circle cx="151.4" cy="184.5" r="5.1" fill="#223018" opacity="0.45"/><circle cx="115.3" cy="137.2" r="3.6" fill="#223018" opacity="0.45"/><circle cx="169.9" cy="117.1" r="4.6" fill="#223018" opacity="0.45"/><circle cx="175.2" cy="140.3" r="4.9" fill="#223018" opacity="0.45"/><circle cx="10.9" cy="80.8" r="5.4" fill="#223018" opacity="0.45"/><circle cx="31.2" cy="15.1" r="2.6" fill="#223018" opacity="0.45"/><circle cx="184.1" cy="244.6" r="4.7" fill="#223018" opacity="0.45"/><circle cx="193.4" cy="195.0" r="5.0" fill="#223018" opacity="0.45"/><circle cx="142.1" cy="3.2" r="5.6" fill="#223018" opacity="0.45"/><circle cx="229.9" cy="61.7" r="2.7" fill="#223018" opacity="0.45"/><circle cx="76.6" cy="29.0" r="3.8" fill="#223018" opacity="0.45"/><circle cx="17.5" cy="67.8" r="2.5" fill="#223018" opacity="0.45"/><circle cx="97.6" cy="93.6" r="5.1" fill="#223018" opacity="0.45"/><circle cx="88.1" cy="50.3" r="5.8" fill="#223018" opacity="0.45"/><circle cx="102.8" cy="128.7" r="2.6" fill="#223018" opacity="0.45"/><circle cx="103.9" cy="244.7" r="4.9" fill="#223018" opacity="0.45"/><circle cx="199.4" cy="217.3" r="5.2" fill="#223018" opacity="0.45"/><circle cx="212.8" cy="252.9" r="4.0" fill="#223018" opacity="0.45"/><circle cx="152.1" cy="209.3" r="5.6" fill="#223018" opacity="0.45"/><circle cx="164.8" cy="139.9" r="3.2" fill="#223018" opacity="0.45"/><circle cx="73.7" cy="77.6" r="4.9" fill="#223018" opacity="0.45"/><circle cx="178.0" cy="58.7" r="4.4" fill="#223018" opacity="0.45"/><circle cx="81.9" cy="43.2" r="3.5" fill="#223018" opacity="0.45"/><circle cx="-2.0" cy="44.8" r="4.0" fill="#223018" opacity="0.45"/><circle cx="21.2" cy="-1.4" r="4.4" fill="#223018" opacity="0.45"/><circle cx="222.4" cy="266.1" r="3.6" fill="#223018" opacity="0.45"/><circle cx="214.6" cy="22.5" r="3.0" fill="#223018" opacity="0.45"/><circle cx="-2.0" cy="15.6" r="4.6" fill="#223018" opacity="0.45"/><circle cx="175.0" cy="151.0" r="5.3" fill="#223018" opacity="0.45"/><circle cx="102.9" cy="293.4" r="4.6" fill="#223018" opacity="0.45"/><circle cx="123.1" cy="51.8" r="4.0" fill="#223018" opacity="0.45"/><circle cx="100.3" cy="262.5" r="3.3" fill="#223018" opacity="0.45"/><circle cx="65.9" cy="260.5" r="2.7" fill="#223018" opacity="0.45"/><circle cx="123.1" cy="67.6" r="4.8" fill="#223018" opacity="0.45"/><circle cx="136.7" cy="27.2" r="5.1" fill="#223018" opacity="0.45"/><circle cx="92.5" cy="100.3" r="5.5" fill="#223018" opacity="0.45"/><circle cx="180.2" cy="96.7" r="4.9" fill="#223018" opacity="0.45"/><circle cx="25.5" cy="164.3" r="2.8" fill="#223018" opacity="0.45"/><circle cx="147.6" cy="292.6" r="4.7" fill="#223018" opacity="0.45"/><circle cx="6.0" cy="162.4" r="4.1" fill="#223018" opacity="0.45"/><circle cx="101.0" cy="45.5" r="3.5" fill="#223018" opacity="0.45"/><circle cx="102.5" cy="19.7" r="4.9" fill="#223018" opacity="0.45"/><circle cx="53.9" cy="90.5" r="2.8" fill="#223018" opacity="0.45"/><circle cx="67.8" cy="297.5" r="3.5" fill="#223018" opacity="0.45"/><circle cx="19.0" cy="108.4" r="5.8" fill="#223018" opacity="0.45"/><circle cx="17.2" cy="107.3" r="3.2" fill="#223018" opacity="0.45"/><circle cx="157.3" cy="145.8" r="2.8" fill="#223018" opacity="0.45"/><circle cx="199.9" cy="102.7" r="4.9" fill="#223018" opacity="0.45"/><circle cx="103.3" cy="278.3" r="2.7" fill="#223018" opacity="0.45"/><circle cx="50.2" cy="89.0" r="3.4" fill="#223018" opacity="0.45"/><circle cx="141.6" cy="127.7" r="4.0" fill="#223018" opacity="0.45"/><circle cx="27.5" cy="138.5" r="5.6" fill="#223018" opacity="0.45"/><circle cx="68.6" cy="114.7" r="4.6" fill="#223018" opacity="0.45"/><circle cx="135.7" cy="53.3" r="4.1" fill="#223018" opacity="0.45"/><circle cx="169.6" cy="10.1" r="2.9" fill="#223018" opacity="0.45"/><circle cx="174.7" cy="289.1" r="2.7" fill="#223018" opacity="0.45"/><circle cx="15.6" cy="199.1" r="3.5" fill="#223018" opacity="0.45"/><circle cx="151.3" cy="7.8" r="4.1" fill="#223018" opacity="0.45"/><circle cx="34.6" cy="104.0" r="4.9" fill="#223018" opacity="0.45"/><circle cx="116.8" cy="272.4" r="5.4" fill="#223018" opacity="0.45"/><circle cx="142.6" cy="270.4" r="3.1" fill="#223018" opacity="0.45"/><circle cx="108.4" cy="99.9" r="4.7" fill="#223018" opacity="0.45"/><circle cx="22.7" cy="282.6" r="3.8" fill="#223018" opacity="0.45"/><circle cx="181.4" cy="301.2" r="5.8" fill="#223018" opacity="0.45"/><circle cx="88.5" cy="273.5" r="6.0" fill="#223018" opacity="0.45"/><circle cx="27.1" cy="238.1" r="5.0" fill="#223018" opacity="0.45"/><circle cx="104.4" cy="86.5" r="3.1" fill="#223018" opacity="0.45"/><circle cx="93.6" cy="297.7" r="3.9" fill="#223018" opacity="0.45"/><circle cx="56.7" cy="196.8" r="4.0" fill="#223018" opacity="0.45"/><circle cx="141.2" cy="143.5" r="3.5" fill="#223018" opacity="0.45"/><circle cx="4.8" cy="261.0" r="4.8" fill="#223018" opacity="0.45"/><circle cx="53.9" cy="158.0" r="4.5" fill="#223018" opacity="0.45"/><circle cx="115.2" cy="287.7" r="5.2" fill="#223018" opacity="0.45"/><circle cx="68.7" cy="106.1" r="4.6" fill="#223018" opacity="0.45"/><circle cx="34.7" cy="298.4" r="2.7" fill="#223018" opacity="0.45"/><circle cx="114.3" cy="85.0" r="4.3" fill="#223018" opacity="0.45"/><circle cx="7.2" cy="69.1" r="6.0" fill="#223018" opacity="0.45"/><circle cx="182.4" cy="68.1" r="4.1" fill="#223018" opacity="0.45"/><circle cx="4.1" cy="36.1" r="3.2" fill="#223018" opacity="0.45"/><circle cx="228.7" cy="97.4" r="3.4" fill="#223018" opacity="0.45"/><circle cx="11.8" cy="32.2" r="6.0" fill="#223018" opacity="0.45"/><circle cx="171.1" cy="294.0" r="5.4" fill="#223018" opacity="0.45"/><circle cx="181.1" cy="79.1" r="3.1" fill="#223018" opacity="0.45"/><circle cx="60.1" cy="17.8" r="3.1" fill="#223018" opacity="0.45"/><circle cx="166.3" cy="155.3" r="2.5" fill="#223018" opacity="0.45"/><circle cx="68.3" cy="271.1" r="5.5" fill="#223018" opacity="0.45"/><circle cx="168.6" cy="233.0" r="5.7" fill="#223018" opacity="0.45"/><circle cx="127.9" cy="120.5" r="4.5" fill="#223018" opacity="0.45"/><circle cx="63.1" cy="8.5" r="3.4" fill="#223018" opacity="0.45"/><circle cx="104.4" cy="35.5" r="2.8" fill="#223018" opacity="0.45"/><circle cx="54.8" cy="115.6" r="5.8" fill="#223018" opacity="0.45"/><circle cx="111.3" cy="267.0" r="5.1" fill="#223018" opacity="0.45"/><circle cx="136.2" cy="100.8" r="3.9" fill="#223018" opacity="0.45"/><circle cx="71.2" cy="201.6" r="5.5" fill="#223018" opacity="0.45"/><circle cx="183.0" cy="92.1" r="3.0" fill="#223018" opacity="0.45"/><circle cx="-1.5" cy="185.5" r="3.3" fill="#223018" opacity="0.45"/><circle cx="-2.3" cy="94.3" r="3.3" fill="#223018" opacity="0.45"/><circle cx="44.8" cy="211.3" r="4.5" fill="#223018" opacity="0.45"/><circle cx="62.9" cy="232.7" r="3.2" fill="#223018" opacity="0.45"/><circle cx="213.8" cy="35.1" r="4.6" fill="#223018" opacity="0.45"/><circle cx="162.8" cy="233.3" r="4.2" fill="#223018" opacity="0.45"/><circle cx="40.5" cy="147.1" r="4.4" fill="#223018" opacity="0.45"/><circle cx="18.9" cy="236.3" r="3.7" fill="#223018" opacity="0.45"/><circle cx="108.5" cy="165.3" r="5.4" fill="#223018" opacity="0.45"/><circle cx="67.7" cy="177.5" r="4.6" fill="#223018" opacity="0.45"/><circle cx="151.1" cy="97.5" r="3.5" fill="#223018" opacity="0.45"/><circle cx="107.4" cy="190.8" r="4.8" fill="#223018" opacity="0.45"/><circle cx="28.0" cy="140.8" r="4.5" fill="#223018" opacity="0.45"/><circle cx="42.4" cy="29.7" r="5.8" fill="#223018" opacity="0.45"/><circle cx="1.3" cy="157.8" r="3.5" fill="#223018" opacity="0.45"/><circle cx="3.7" cy="83.9" r="3.1" fill="#223018" opacity="0.45"/><circle cx="90.8" cy="290.6" r="2.8" fill="#223018" opacity="0.45"/><circle cx="79.4" cy="221.2" r="4.7" fill="#223018" opacity="0.45"/><circle cx="1.3" cy="70.6" r="3.5" fill="#223018" opacity="0.45"/><circle cx="110.9" cy="45.0" r="4.8" fill="#223018" opacity="0.45"/><circle cx="166.5" cy="150.9" r="4.4" fill="#223018" opacity="0.45"/><circle cx="178.2" cy="305.6" r="4.6" fill="#223018" opacity="0.45"/><circle cx="6.9" cy="159.9" r="4.8" fill="#223018" opacity="0.45"/><circle cx="74.5" cy="217.7" r="3.8" fill="#223018" opacity="0.45"/><circle cx="141.9" cy="195.1" r="4.8" fill="#223018" opacity="0.45"/><circle cx="214.8" cy="225.3" r="5.0" fill="#223018" opacity="0.45"/><circle cx="50.8" cy="195.1" r="4.7" fill="#223018" opacity="0.45"/><circle cx="10.8" cy="240.3" r="3.3" fill="#223018" opacity="0.45"/><circle cx="112.5" cy="165.9" r="5.0" fill="#223018" opacity="0.45"/><circle cx="177.0" cy="147.9" r="5.8" fill="#223018" opacity="0.45"/><circle cx="100.9" cy="179.7" r="6.0" fill="#223018" opacity="0.45"/><circle cx="72.8" cy="227.3" r="5.8" fill="#223018" opacity="0.45"/><circle cx="16.3" cy="247.7" r="4.8" fill="#223018" opacity="0.45"/><circle cx="123.8" cy="251.7" r="5.5" fill="#223018" opacity="0.45"/><circle cx="31.0" cy="153.9" r="4.7" fill="#223018" opacity="0.45"/><circle cx="161.3" cy="306.3" r="5.3" fill="#223018" opacity="0.45"/><circle cx="191.9" cy="17.6" r="4.0" fill="#223018" opacity="0.45"/><circle cx="212.0" cy="302.3" r="5.1" fill="#223018" opacity="0.45"/><circle cx="75.1" cy="245.4" r="4.4" fill="#223018" opacity="0.45"/><circle cx="153.9" cy="202.6" r="5.5" fill="#223018" opacity="0.45"/><circle cx="165.0" cy="310.2" r="4.2" fill="#223018" opacity="0.45"/><circle cx="112.9" cy="209.1" r="4.5" fill="#223018" opacity="0.45"/><circle cx="8.0" cy="306.5" r="3.6" fill="#223018" opacity="0.45"/><circle cx="114.3" cy="10.4" r="3.2" fill="#223018" opacity="0.45"/><circle cx="215.6" cy="86.3" r="3.5" fill="#223018" opacity="0.45"/><circle cx="188.0" cy="74.7" r="4.8" fill="#223018" opacity="0.45"/><circle cx="130.5" cy="286.2" r="4.2" fill="#223018" opacity="0.45"/><circle cx="74.0" cy="80.4" r="3.8" fill="#223018" opacity="0.45"/><circle cx="-3.6" cy="35.3" r="3.0" fill="#223018" opacity="0.45"/><circle cx="70.6" cy="244.9" r="5.8" fill="#223018" opacity="0.45"/><circle cx="80.0" cy="77.4" r="3.5" fill="#223018" opacity="0.45"/><circle cx="144.8" cy="151.3" r="2.9" fill="#223018" opacity="0.45"/><circle cx="120.0" cy="83.6" r="3.0" fill="#223018" opacity="0.45"/><circle cx="181.7" cy="30.7" r="4.0" fill="#223018" opacity="0.45"/><circle cx="124.5" cy="278.9" r="3.6" fill="#223018" opacity="0.45"/><circle cx="219.7" cy="10.8" r="5.6" fill="#223018" opacity="0.45"/><circle cx="96.5" cy="-2.3" r="3.4" fill="#223018" opacity="0.45"/><circle cx="229.8" cy="228.1" r="5.1" fill="#223018" opacity="0.45"/><circle cx="-2.1" cy="95.8" r="4.1" fill="#223018" opacity="0.45"/><circle cx="211.0" cy="290.0" r="3.0" fill="#223018" opacity="0.45"/><circle cx="97.1" cy="164.9" r="4.1" fill="#223018" opacity="0.45"/><circle cx="69.7" cy="302.8" r="4.2" fill="#223018" opacity="0.45"/><circle cx="69.0" cy="247.9" r="3.4" fill="#223018" opacity="0.45"/><circle cx="96.2" cy="30.3" r="3.3" fill="#223018" opacity="0.45"/><circle cx="155.0" cy="165.1" r="3.8" fill="#223018" opacity="0.45"/><circle cx="31.2" cy="6.2" r="2.9" fill="#223018" opacity="0.45"/><circle cx="92.0" cy="0.0" r="4.9" fill="#223018" opacity="0.45"/><circle cx="76.0" cy="72.1" r="3.6" fill="#223018" opacity="0.45"/><circle cx="112.7" cy="64.4" r="5.5" fill="#223018" opacity="0.45"/><circle cx="110.4" cy="18.9" r="2.8" fill="#223018" opacity="0.45"/><circle cx="206.5" cy="183.4" r="3.5" fill="#223018" opacity="0.45"/><circle cx="7.3" cy="283.8" r="5.8" fill="#223018" opacity="0.45"/><circle cx="153.2" cy="13.0" r="4.0" fill="#223018" opacity="0.45"/><circle cx="11.4" cy="165.3" r="3.1" fill="#223018" opacity="0.45"/><circle cx="101.5" cy="286.0" r="5.7" fill="#223018" opacity="0.45"/><circle cx="112.5" cy="249.9" r="3.0" fill="#223018" opacity="0.45"/><circle cx="220.1" cy="276.3" r="4.2" fill="#223018" opacity="0.45"/><circle cx="205.5" cy="92.7" r="5.9" fill="#223018" opacity="0.45"/><circle cx="72.6" cy="295.3" r="5.4" fill="#223018" opacity="0.45"/><circle cx="151.1" cy="290.2" r="4.9" fill="#223018" opacity="0.45"/><circle cx="5.6" cy="109.0" r="3.7" fill="#223018" opacity="0.45"/><circle cx="36.8" cy="69.4" r="4.3" fill="#223018" opacity="0.45"/><circle cx="84.4" cy="83.0" r="3.9" fill="#223018" opacity="0.45"/><circle cx="219.9" cy="189.4" r="5.1" fill="#223018" opacity="0.45"/><circle cx="3.7" cy="281.1" r="2.8" fill="#223018" opacity="0.45"/><circle cx="42.7" cy="235.5" r="5.1" fill="#223018" opacity="0.45"/><circle cx="141.5" cy="150.5" r="5.0" fill="#223018" opacity="0.45"/><circle cx="97.4" cy="59.5" r="3.3" fill="#223018" opacity="0.45"/><circle cx="23.0" cy="8.6" r="5.8" fill="#223018" opacity="0.45"/><circle cx="220.6" cy="109.3" r="3.9" fill="#223018" opacity="0.45"/><circle cx="62.2" cy="249.1" r="4.2" fill="#223018" opacity="0.45"/><circle cx="36.6" cy="282.3" r="5.8" fill="#223018" opacity="0.45"/><circle cx="7.4" cy="145.0" r="3.3" fill="#223018" opacity="0.45"/><circle cx="147.2" cy="112.6" r="3.5" fill="#223018" opacity="0.45"/><circle cx="67.8" cy="192.9" r="4.3" fill="#223018" opacity="0.45"/><circle cx="111.5" cy="216.5" r="4.2" fill="#223018" opacity="0.45"/><circle cx="219.9" cy="138.4" r="5.3" fill="#223018" opacity="0.45"/><circle cx="143.1" cy="187.1" r="5.3" fill="#223018" opacity="0.45"/><circle cx="164.4" cy="59.2" r="4.0" fill="#223018" opacity="0.45"/><circle cx="33.4" cy="3.5" r="4.9" fill="#223018" opacity="0.45"/><circle cx="74.0" cy="79.0" r="2.6" fill="#223018" opacity="0.45"/><circle cx="1.7" cy="213.7" r="3.8" fill="#223018" opacity="0.45"/><circle cx="99.3" cy="215.0" r="5.7" fill="#223018" opacity="0.45"/><circle cx="161.8" cy="67.5" r="6.0" fill="#223018" opacity="0.45"/><circle cx="39.7" cy="184.3" r="4.8" fill="#223018" opacity="0.45"/><circle cx="64.2" cy="283.8" r="4.6" fill="#223018" opacity="0.45"/><circle cx="164.0" cy="41.5" r="5.4" fill="#223018" opacity="0.45"/><circle cx="64.2" cy="196.3" r="5.1" fill="#223018" opacity="0.45"/><circle cx="72.4" cy="82.4" r="3.7" fill="#223018" opacity="0.45"/><circle cx="151.2" cy="81.4" r="2.8" fill="#223018" opacity="0.45"/><circle cx="22.2" cy="184.7" r="4.6" fill="#223018" opacity="0.45"/><circle cx="227.2" cy="197.3" r="5.5" fill="#223018" opacity="0.45"/><circle cx="113.6" cy="132.9" r="4.1" fill="#223018" opacity="0.45"/><circle cx="84.1" cy="242.2" r="4.5" fill="#223018" opacity="0.45"/><circle cx="25.3" cy="305.3" r="4.3" fill="#223018" opacity="0.45"/><circle cx="173.1" cy="173.5" r="4.6" fill="#223018" opacity="0.45"/><circle cx="132.4" cy="33.7" r="3.0" fill="#223018" opacity="0.45"/><circle cx="168.9" cy="109.6" r="3.0" fill="#223018" opacity="0.45"/><circle cx="188.9" cy="238.3" r="5.2" fill="#223018" opacity="0.45"/><circle cx="87.8" cy="39.2" r="5.2" fill="#223018" opacity="0.45"/><circle cx="47.3" cy="212.5" r="4.9" fill="#223018" opacity="0.45"/><circle cx="60.9" cy="-2.6" r="4.6" fill="#223018" opacity="0.45"/><circle cx="182.9" cy="186.8" r="5.9" fill="#223018" opacity="0.45"/><circle cx="50.3" cy="232.8" r="4.0" fill="#223018" opacity="0.45"/><circle cx="133.3" cy="94.3" r="3.3" fill="#223018" opacity="0.45"/><circle cx="125.8" cy="192.9" r="5.7" fill="#223018" opacity="0.45"/><circle cx="138.9" cy="158.1" r="4.8" fill="#223018" opacity="0.45"/><circle cx="144.6" cy="128.5" r="3.4" fill="#223018" opacity="0.45"/><circle cx="157.4" cy="121.7" r="2.6" fill="#223018" opacity="0.45"/><circle cx="36.5" cy="112.7" r="4.9" fill="#223018" opacity="0.45"/><circle cx="151.3" cy="155.0" r="5.4" fill="#223018" opacity="0.45"/><circle cx="73.5" cy="110.1" r="5.1" fill="#223018" opacity="0.45"/><circle cx="156.7" cy="134.3" r="5.6" fill="#223018" opacity="0.45"/><circle cx="2.6" cy="170.0" r="5.5" fill="#223018" opacity="0.45"/><circle cx="203.9" cy="59.1" r="5.3" fill="#223018" opacity="0.45"/><circle cx="122.2" cy="298.8" r="3.6" fill="#223018" opacity="0.45"/><circle cx="153.2" cy="204.0" r="6.0" fill="#223018" opacity="0.45"/><circle cx="76.4" cy="122.5" r="2.9" fill="#223018" opacity="0.45"/><circle cx="157.8" cy="19.4" r="5.5" fill="#223018" opacity="0.45"/><circle cx="30.9" cy="58.3" r="5.8" fill="#223018" opacity="0.45"/><circle cx="114.0" cy="240.5" r="3.7" fill="#223018" opacity="0.45"/><circle cx="53.6" cy="115.7" r="5.9" fill="#223018" opacity="0.45"/><circle cx="41.7" cy="289.0" r="5.6" fill="#223018" opacity="0.45"/><circle cx="157.0" cy="82.5" r="5.1" fill="#223018" opacity="0.45"/><circle cx="145.1" cy="12.2" r="2.5" fill="#223018" opacity="0.45"/><circle cx="84.7" cy="79.8" r="4.2" fill="#223018" opacity="0.45"/><circle cx="13.7" cy="177.5" r="4.9" fill="#223018" opacity="0.45"/><circle cx="71.2" cy="184.6" r="4.3" fill="#223018" opacity="0.45"/><circle cx="182.6" cy="182.8" r="4.7" fill="#223018" opacity="0.45"/><circle cx="129.4" cy="262.5" r="2.8" fill="#223018" opacity="0.45"/><circle cx="23.3" cy="276.3" r="5.4" fill="#223018" opacity="0.45"/><circle cx="-1.7" cy="285.5" r="4.6" fill="#223018" opacity="0.45"/><circle cx="176.9" cy="226.0" r="4.1" fill="#223018" opacity="0.45"/><circle cx="60.3" cy="114.3" r="5.8" fill="#223018" opacity="0.45"/><circle cx="105.7" cy="64.5" r="6.0" fill="#223018" opacity="0.45"/><circle cx="227.3" cy="53.8" r="3.2" fill="#223018" opacity="0.45"/><circle cx="168.6" cy="121.7" r="4.2" fill="#223018" opacity="0.45"/><circle cx="157.8" cy="84.9" r="4.6" fill="#223018" opacity="0.45"/><circle cx="44.6" cy="68.2" r="4.4" fill="#223018" opacity="0.45"/><circle cx="97.3" cy="285.6" r="3.0" fill="#223018" opacity="0.45"/><circle cx="212.6" cy="81.3" r="3.7" fill="#223018" opacity="0.45"/><circle cx="21.5" cy="98.8" r="5.9" fill="#223018" opacity="0.45"/><circle cx="81.8" cy="266.7" r="5.9" fill="#223018" opacity="0.45"/><circle cx="160.6" cy="56.2" r="4.0" fill="#223018" opacity="0.45"/><circle cx="35.8" cy="77.3" r="3.7" fill="#223018" opacity="0.45"/><circle cx="35.5" cy="216.3" r="4.3" fill="#223018" opacity="0.45"/><circle cx="65.1" cy="78.9" r="3.0" fill="#223018" opacity="0.45"/><circle cx="23.4" cy="138.4" r="2.8" fill="#223018" opacity="0.45"/><circle cx="119.7" cy="79.2" r="5.2" fill="#223018" opacity="0.45"/><circle cx="59.4" cy="273.2" r="5.8" fill="#223018" opacity="0.45"/><circle cx="215.8" cy="70.2" r="5.8" fill="#223018" opacity="0.45"/><circle cx="107.8" cy="282.4" r="4.1" fill="#223018" opacity="0.45"/><circle cx="124.1" cy="80.3" r="5.2" fill="#223018" opacity="0.45"/><circle cx="83.2" cy="282.2" r="5.0" fill="#223018" opacity="0.45"/><circle cx="97.6" cy="6.8" r="3.4" fill="#223018" opacity="0.45"/><circle cx="94.9" cy="116.3" r="4.5" fill="#223018" opacity="0.45"/><circle cx="-2.4" cy="147.7" r="5.6" fill="#223018" opacity="0.45"/><circle cx="232.2" cy="251.9" r="4.1" fill="#223018" opacity="0.45"/><circle cx="113.4" cy="300.2" r="4.4" fill="#223018" opacity="0.45"/><circle cx="137.6" cy="96.0" r="4.8" fill="#223018" opacity="0.45"/><circle cx="111.7" cy="301.4" r="6.0" fill="#223018" opacity="0.45"/><circle cx="231.5" cy="303.8" r="2.7" fill="#223018" opacity="0.45"/><circle cx="13.6" cy="106.2" r="5.4" fill="#223018" opacity="0.45"/><circle cx="128.1" cy="79.6" r="2.9" fill="#223018" opacity="0.45"/><circle cx="55.4" cy="37.8" r="3.0" fill="#223018" opacity="0.45"/><circle cx="172.2" cy="59.1" r="3.1" fill="#223018" opacity="0.45"/><circle cx="142.7" cy="38.9" r="5.4" fill="#223018" opacity="0.45"/><circle cx="149.8" cy="280.2" r="5.0" fill="#223018" opacity="0.45"/><circle cx="168.8" cy="83.1" r="4.0" fill="#223018" opacity="0.45"/><circle cx="86.0" cy="123.3" r="5.7" fill="#223018" opacity="0.45"/><circle cx="99.3" cy="254.8" r="4.7" fill="#223018" opacity="0.45"/><circle cx="15.9" cy="64.7" r="4.5" fill="#223018" opacity="0.45"/><circle cx="182.7" cy="72.0" r="3.4" fill="#223018" opacity="0.45"/><circle cx="85.4" cy="145.0" r="4.0" fill="#223018" opacity="0.45"/><circle cx="116.2" cy="48.6" r="3.9" fill="#223018" opacity="0.45"/><circle cx="11.7" cy="208.7" r="5.5" fill="#223018" opacity="0.45"/><circle cx="127.5" cy="53.7" r="4.4" fill="#223018" opacity="0.45"/><circle cx="113.7" cy="60.4" r="4.0" fill="#223018" opacity="0.45"/><circle cx="145.1" cy="175.2" r="3.5" fill="#223018" opacity="0.45"/><circle cx="107.6" cy="128.1" r="4.7" fill="#223018" opacity="0.45"/><circle cx="153.9" cy="75.4" r="3.4" fill="#223018" opacity="0.45"/><circle cx="214.1" cy="43.7" r="4.9" fill="#223018" opacity="0.45"/><circle cx="57.8" cy="155.3" r="4.1" fill="#223018" opacity="0.45"/><circle cx="52.8" cy="53.6" r="5.9" fill="#223018" opacity="0.45"/><circle cx="5.5" cy="42.8" r="5.1" fill="#223018" opacity="0.45"/><circle cx="84.0" cy="59.7" r="5.2" fill="#223018" opacity="0.45"/><circle cx="228.0" cy="63.8" r="5.0" fill="#223018" opacity="0.45"/><circle cx="90.0" cy="319.0" r="4.6" fill="#223018" opacity="0.45"/><circle cx="162.9" cy="46.1" r="2.8" fill="#223018" opacity="0.45"/><circle cx="230.3" cy="295.0" r="4.8" fill="#223018" opacity="0.45"/><circle cx="11.4" cy="223.1" r="6.0" fill="#223018" opacity="0.45"/><circle cx="181.1" cy="227.8" r="4.0" fill="#223018" opacity="0.45"/><circle cx="145.6" cy="295.9" r="4.2" fill="#223018" opacity="0.45"/><circle cx="14.0" cy="43.6" r="5.8" fill="#223018" opacity="0.45"/><circle cx="163.8" cy="298.8" r="3.0" fill="#223018" opacity="0.45"/><circle cx="21.3" cy="217.4" r="4.0" fill="#223018" opacity="0.45"/><circle cx="105.6" cy="71.9" r="5.2" fill="#223018" opacity="0.45"/><circle cx="180.8" cy="231.2" r="4.0" fill="#223018" opacity="0.45"/><circle cx="112.2" cy="124.5" r="4.1" fill="#223018" opacity="0.45"/><circle cx="73.3" cy="148.2" r="5.9" fill="#223018" opacity="0.45"/><circle cx="185.6" cy="40.4" r="4.8" fill="#223018" opacity="0.45"/><circle cx="77.8" cy="283.8" r="5.8" fill="#223018" opacity="0.45"/><circle cx="13.1" cy="198.6" r="3.8" fill="#223018" opacity="0.45"/><circle cx="106.5" cy="173.8" r="5.5" fill="#223018" opacity="0.45"/><circle cx="145.3" cy="283.6" r="3.4" fill="#223018" opacity="0.45"/><circle cx="184.5" cy="123.2" r="3.1" fill="#223018" opacity="0.45"/><circle cx="132.6" cy="69.5" r="5.6" fill="#223018" opacity="0.45"/><circle cx="112.4" cy="214.4" r="5.9" fill="#223018" opacity="0.45"/><circle cx="73.5" cy="172.3" r="4.4" fill="#223018" opacity="0.45"/><circle cx="63.7" cy="169.2" r="5.9" fill="#223018" opacity="0.45"/><circle cx="161.0" cy="82.4" r="4.9" fill="#223018" opacity="0.45"/><circle cx="141.6" cy="115.8" r="4.8" fill="#223018" opacity="0.45"/><circle cx="85.1" cy="249.0" r="3.9" fill="#223018" opacity="0.45"/><circle cx="190.9" cy="92.7" r="3.1" fill="#223018" opacity="0.45"/><circle cx="74.1" cy="37.3" r="5.6" fill="#223018" opacity="0.45"/><circle cx="231.4" cy="131.1" r="3.3" fill="#223018" opacity="0.45"/><circle cx="197.3" cy="75.6" r="3.6" fill="#223018" opacity="0.45"/><circle cx="113.8" cy="39.4" r="3.2" fill="#223018" opacity="0.45"/><circle cx="90.2" cy="35.3" r="3.0" fill="#223018" opacity="0.45"/><circle cx="139.1" cy="93.8" r="5.7" fill="#223018" opacity="0.45"/><circle cx="223.3" cy="213.1" r="3.5" fill="#223018" opacity="0.45"/><circle cx="142.0" cy="234.6" r="4.2" fill="#587a3e" opacity="0.75"/><circle cx="104.9" cy="299.7" r="3.8" fill="#6a8a48" opacity="0.75"/><circle cx="207.6" cy="31.6" r="3.3" fill="#73924c" opacity="0.75"/><circle cx="53.2" cy="170.6" r="3.6" fill="#6a8a48" opacity="0.75"/><circle cx="-1.9" cy="65.0" r="2.8" fill="#7a9652" opacity="0.75"/><circle cx="211.3" cy="242.3" r="2.4" fill="#5f7e42" opacity="0.75"/><circle cx="-4.6" cy="276.5" r="2.6" fill="#7a9652" opacity="0.75"/><circle cx="45.9" cy="312.3" r="4.4" fill="#73924c" opacity="0.75"/><circle cx="63.3" cy="305.6" r="3.5" fill="#587a3e" opacity="0.75"/><circle cx="155.0" cy="61.1" r="4.6" fill="#6a8a48" opacity="0.75"/><circle cx="158.0" cy="307.2" r="4.5" fill="#4e6e38" opacity="0.75"/><circle cx="65.5" cy="111.7" r="2.5" fill="#587a3e" opacity="0.75"/><circle cx="29.4" cy="16.0" r="2.8" fill="#73924c" opacity="0.75"/><circle cx="137.3" cy="-3.9" r="3.9" fill="#5f7e42" opacity="0.75"/><circle cx="74.7" cy="95.1" r="4.3" fill="#6a8a48" opacity="0.75"/><circle cx="108.5" cy="97.0" r="3.3" fill="#587a3e" opacity="0.75"/><circle cx="161.3" cy="13.4" r="4.7" fill="#587a3e" opacity="0.75"/><circle cx="0.4" cy="237.2" r="4.4" fill="#73924c" opacity="0.75"/><circle cx="-0.7" cy="249.4" r="3.0" fill="#5f7e42" opacity="0.75"/><circle cx="131.5" cy="-2.1" r="2.1" fill="#5f7e42" opacity="0.75"/><circle cx="37.7" cy="303.5" r="2.6" fill="#6a8a48" opacity="0.75"/><circle cx="173.4" cy="295.3" r="4.6" fill="#4e6e38" opacity="0.75"/><circle cx="76.3" cy="109.6" r="3.5" fill="#5f7e42" opacity="0.75"/><circle cx="178.0" cy="29.9" r="4.1" fill="#5f7e42" opacity="0.75"/><circle cx="197.9" cy="6.8" r="4.6" fill="#5f7e42" opacity="0.75"/><circle cx="16.5" cy="105.1" r="3.7" fill="#5f7e42" opacity="0.75"/><circle cx="211.7" cy="104.8" r="4.6" fill="#587a3e" opacity="0.75"/><circle cx="123.7" cy="95.9" r="2.9" fill="#4e6e38" opacity="0.75"/><circle cx="36.9" cy="20.3" r="2.4" fill="#7a9652" opacity="0.75"/><circle cx="157.6" cy="316.9" r="2.5" fill="#73924c" opacity="0.75"/><circle cx="6.5" cy="313.7" r="3.5" fill="#73924c" opacity="0.75"/><circle cx="90.8" cy="71.7" r="3.7" fill="#4e6e38" opacity="0.75"/><circle cx="211.2" cy="5.6" r="3.4" fill="#7a9652" opacity="0.75"/><circle cx="192.9" cy="37.2" r="4.0" fill="#587a3e" opacity="0.75"/><circle cx="143.8" cy="249.5" r="2.3" fill="#4e6e38" opacity="0.75"/><circle cx="97.6" cy="43.2" r="4.4" fill="#4e6e38" opacity="0.75"/><circle cx="64.6" cy="141.4" r="4.8" fill="#587a3e" opacity="0.75"/><circle cx="196.1" cy="310.3" r="3.3" fill="#73924c" opacity="0.75"/><circle cx="110.2" cy="230.6" r="3.3" fill="#73924c" opacity="0.75"/><circle cx="63.7" cy="125.4" r="2.4" fill="#5f7e42" opacity="0.75"/><circle cx="84.0" cy="314.2" r="4.7" fill="#587a3e" opacity="0.75"/><circle cx="143.0" cy="156.3" r="2.9" fill="#7a9652" opacity="0.75"/><circle cx="16.0" cy="83.0" r="4.2" fill="#5f7e42" opacity="0.75"/><circle cx="199.7" cy="111.7" r="4.2" fill="#6a8a48" opacity="0.75"/><circle cx="158.9" cy="209.5" r="4.1" fill="#6a8a48" opacity="0.75"/><circle cx="80.8" cy="222.5" r="2.8" fill="#73924c" opacity="0.75"/><circle cx="109.6" cy="243.6" r="3.9" fill="#4e6e38" opacity="0.75"/><circle cx="64.3" cy="300.4" r="3.8" fill="#587a3e" opacity="0.75"/><circle cx="132.0" cy="-1.3" r="3.5" fill="#7a9652" opacity="0.75"/><circle cx="54.2" cy="211.9" r="3.3" fill="#5f7e42" opacity="0.75"/><circle cx="147.0" cy="233.3" r="4.3" fill="#6a8a48" opacity="0.75"/><circle cx="77.6" cy="267.3" r="4.4" fill="#6a8a48" opacity="0.75"/><circle cx="157.4" cy="310.3" r="4.7" fill="#4e6e38" opacity="0.75"/><circle cx="117.3" cy="166.0" r="2.5" fill="#5f7e42" opacity="0.75"/><circle cx="192.4" cy="297.8" r="3.3" fill="#6a8a48" opacity="0.75"/><circle cx="158.2" cy="227.5" r="4.0" fill="#587a3e" opacity="0.75"/><circle cx="35.6" cy="247.1" r="3.6" fill="#6a8a48" opacity="0.75"/><circle cx="152.1" cy="130.9" r="3.7" fill="#7a9652" opacity="0.75"/><circle cx="177.8" cy="200.7" r="4.0" fill="#4e6e38" opacity="0.75"/><circle cx="1.5" cy="46.7" r="3.2" fill="#587a3e" opacity="0.75"/><circle cx="148.4" cy="65.7" r="3.9" fill="#73924c" opacity="0.75"/><circle cx="143.9" cy="8.5" r="3.3" fill="#7a9652" opacity="0.75"/><circle cx="48.4" cy="12.5" r="2.4" fill="#587a3e" opacity="0.75"/><circle cx="69.9" cy="53.6" r="2.5" fill="#5f7e42" opacity="0.75"/><circle cx="3.4" cy="145.3" r="3.1" fill="#73924c" opacity="0.75"/><circle cx="139.4" cy="185.6" r="2.7" fill="#6a8a48" opacity="0.75"/><circle cx="208.2" cy="-4.8" r="3.1" fill="#6a8a48" opacity="0.75"/><circle cx="60.7" cy="127.4" r="2.3" fill="#587a3e" opacity="0.75"/><circle cx="17.4" cy="171.1" r="3.0" fill="#6a8a48" opacity="0.75"/><circle cx="132.1" cy="304.5" r="4.3" fill="#587a3e" opacity="0.75"/><circle cx="93.9" cy="257.6" r="3.8" fill="#6a8a48" opacity="0.75"/><circle cx="82.2" cy="40.9" r="3.7" fill="#4e6e38" opacity="0.75"/><circle cx="128.1" cy="304.2" r="4.7" fill="#6a8a48" opacity="0.75"/><circle cx="138.6" cy="108.4" r="4.5" fill="#7a9652" opacity="0.75"/><circle cx="-4.8" cy="29.9" r="3.6" fill="#73924c" opacity="0.75"/><circle cx="140.2" cy="40.4" r="3.8" fill="#7a9652" opacity="0.75"/><circle cx="63.8" cy="309.1" r="3.1" fill="#6a8a48" opacity="0.75"/><circle cx="221.8" cy="290.1" r="3.7" fill="#6a8a48" opacity="0.75"/><circle cx="56.3" cy="311.9" r="3.4" fill="#7a9652" opacity="0.75"/><circle cx="93.1" cy="98.1" r="4.8" fill="#4e6e38" opacity="0.75"/><circle cx="111.1" cy="87.5" r="3.3" fill="#4e6e38" opacity="0.75"/><circle cx="23.8" cy="195.8" r="3.2" fill="#4e6e38" opacity="0.75"/><circle cx="64.2" cy="247.5" r="4.3" fill="#73924c" opacity="0.75"/><circle cx="-1.9" cy="167.0" r="2.8" fill="#73924c" opacity="0.75"/><circle cx="215.7" cy="247.6" r="2.7" fill="#4e6e38" opacity="0.75"/><circle cx="58.2" cy="45.0" r="4.8" fill="#7a9652" opacity="0.75"/><circle cx="64.2" cy="191.4" r="3.3" fill="#6a8a48" opacity="0.75"/><circle cx="147.2" cy="190.0" r="4.1" fill="#6a8a48" opacity="0.75"/><circle cx="22.9" cy="240.6" r="2.8" fill="#6a8a48" opacity="0.75"/><circle cx="120.9" cy="103.6" r="2.8" fill="#4e6e38" opacity="0.75"/><circle cx="120.0" cy="145.0" r="3.0" fill="#6a8a48" opacity="0.75"/><circle cx="170.8" cy="185.8" r="2.1" fill="#7a9652" opacity="0.75"/><circle cx="54.6" cy="142.2" r="4.6" fill="#4e6e38" opacity="0.75"/><circle cx="204.6" cy="171.2" r="2.0" fill="#587a3e" opacity="0.75"/><circle cx="95.9" cy="180.9" r="4.0" fill="#4e6e38" opacity="0.75"/><circle cx="144.2" cy="150.6" r="4.6" fill="#4e6e38" opacity="0.75"/><circle cx="86.0" cy="121.6" r="4.4" fill="#6a8a48" opacity="0.75"/><circle cx="41.4" cy="90.8" r="4.3" fill="#587a3e" opacity="0.75"/><circle cx="10.6" cy="265.1" r="3.9" fill="#4e6e38" opacity="0.75"/><circle cx="97.1" cy="87.5" r="4.2" fill="#73924c" opacity="0.75"/><circle cx="209.9" cy="41.1" r="3.3" fill="#4e6e38" opacity="0.75"/><circle cx="124.6" cy="155.8" r="2.9" fill="#6a8a48" opacity="0.75"/><circle cx="31.2" cy="184.2" r="4.3" fill="#5f7e42" opacity="0.75"/><circle cx="11.1" cy="69.3" r="4.3" fill="#7a9652" opacity="0.75"/><circle cx="181.9" cy="209.3" r="2.1" fill="#6a8a48" opacity="0.75"/><circle cx="165.5" cy="311.1" r="4.8" fill="#4e6e38" opacity="0.75"/><circle cx="160.5" cy="10.8" r="4.4" fill="#7a9652" opacity="0.75"/><circle cx="46.7" cy="203.6" r="4.7" fill="#587a3e" opacity="0.75"/><circle cx="163.1" cy="38.5" r="2.8" fill="#73924c" opacity="0.75"/><circle cx="211.6" cy="43.4" r="3.7" fill="#73924c" opacity="0.75"/><circle cx="92.7" cy="47.1" r="3.7" fill="#5f7e42" opacity="0.75"/><circle cx="5.3" cy="30.0" r="3.1" fill="#7a9652" opacity="0.75"/><circle cx="12.0" cy="13.6" r="3.6" fill="#587a3e" opacity="0.75"/><circle cx="170.2" cy="278.7" r="2.4" fill="#4e6e38" opacity="0.75"/><circle cx="96.9" cy="96.6" r="3.7" fill="#587a3e" opacity="0.75"/><circle cx="110.5" cy="298.1" r="3.0" fill="#73924c" opacity="0.75"/><circle cx="8.2" cy="220.2" r="2.4" fill="#587a3e" opacity="0.75"/><circle cx="144.0" cy="158.4" r="4.5" fill="#7a9652" opacity="0.75"/><circle cx="126.0" cy="195.5" r="2.7" fill="#5f7e42" opacity="0.75"/><circle cx="125.2" cy="77.1" r="4.1" fill="#5f7e42" opacity="0.75"/><circle cx="117.0" cy="38.2" r="2.7" fill="#7a9652" opacity="0.75"/><circle cx="82.6" cy="233.0" r="2.5" fill="#5f7e42" opacity="0.75"/><circle cx="163.3" cy="206.6" r="2.2" fill="#7a9652" opacity="0.75"/><circle cx="152.6" cy="24.5" r="2.3" fill="#6a8a48" opacity="0.75"/><circle cx="135.2" cy="72.1" r="4.5" fill="#6a8a48" opacity="0.75"/><circle cx="108.4" cy="99.4" r="4.2" fill="#6a8a48" opacity="0.75"/><circle cx="2.0" cy="229.2" r="2.2" fill="#73924c" opacity="0.75"/><circle cx="30.6" cy="302.5" r="3.9" fill="#587a3e" opacity="0.75"/><circle cx="47.6" cy="32.5" r="4.7" fill="#6a8a48" opacity="0.75"/><circle cx="152.0" cy="260.1" r="2.4" fill="#6a8a48" opacity="0.75"/><circle cx="142.5" cy="109.4" r="2.7" fill="#6a8a48" opacity="0.75"/><circle cx="73.7" cy="193.2" r="3.0" fill="#6a8a48" opacity="0.75"/><circle cx="86.0" cy="39.1" r="4.3" fill="#587a3e" opacity="0.75"/><circle cx="147.9" cy="254.9" r="3.2" fill="#6a8a48" opacity="0.75"/><circle cx="169.7" cy="122.7" r="2.3" fill="#73924c" opacity="0.75"/><circle cx="2.8" cy="60.4" r="2.1" fill="#73924c" opacity="0.75"/><circle cx="106.0" cy="282.4" r="3.7" fill="#5f7e42" opacity="0.75"/><circle cx="96.2" cy="145.4" r="2.3" fill="#587a3e" opacity="0.75"/><circle cx="31.5" cy="46.4" r="3.0" fill="#6a8a48" opacity="0.75"/><circle cx="86.0" cy="279.4" r="2.4" fill="#5f7e42" opacity="0.75"/><circle cx="55.0" cy="84.6" r="2.5" fill="#7a9652" opacity="0.75"/><circle cx="62.7" cy="71.0" r="3.3" fill="#6a8a48" opacity="0.75"/><circle cx="2.6" cy="293.6" r="3.0" fill="#7a9652" opacity="0.75"/><circle cx="218.1" cy="33.1" r="3.9" fill="#7a9652" opacity="0.75"/><circle cx="63.7" cy="212.9" r="4.0" fill="#587a3e" opacity="0.75"/><circle cx="33.5" cy="59.9" r="2.1" fill="#7a9652" opacity="0.75"/><circle cx="49.4" cy="20.3" r="3.1" fill="#4e6e38" opacity="0.75"/><circle cx="61.8" cy="231.5" r="4.0" fill="#73924c" opacity="0.75"/><circle cx="33.6" cy="72.7" r="3.9" fill="#6a8a48" opacity="0.75"/><circle cx="217.0" cy="203.6" r="3.2" fill="#73924c" opacity="0.75"/><circle cx="-3.5" cy="14.7" r="4.2" fill="#7a9652" opacity="0.75"/><circle cx="91.8" cy="9.5" r="3.5" fill="#6a8a48" opacity="0.75"/><circle cx="11.8" cy="285.3" r="3.4" fill="#7a9652" opacity="0.75"/><circle cx="215.8" cy="12.4" r="2.7" fill="#4e6e38" opacity="0.75"/><circle cx="6.9" cy="123.3" r="2.2" fill="#4e6e38" opacity="0.75"/><circle cx="55.3" cy="126.6" r="2.9" fill="#4e6e38" opacity="0.75"/><circle cx="7.1" cy="7.1" r="4.7" fill="#5f7e42" opacity="0.75"/><circle cx="37.3" cy="159.3" r="3.1" fill="#73924c" opacity="0.75"/><circle cx="120.4" cy="22.2" r="2.9" fill="#587a3e" opacity="0.75"/><circle cx="20.5" cy="170.0" r="4.6" fill="#6a8a48" opacity="0.75"/><circle cx="136.2" cy="271.7" r="2.6" fill="#73924c" opacity="0.75"/><circle cx="-0.9" cy="169.3" r="3.4" fill="#7a9652" opacity="0.75"/><circle cx="129.9" cy="116.7" r="3.8" fill="#5f7e42" opacity="0.75"/><circle cx="166.3" cy="289.9" r="2.9" fill="#5f7e42" opacity="0.75"/><circle cx="101.0" cy="261.9" r="2.6" fill="#6a8a48" opacity="0.75"/><circle cx="22.3" cy="95.7" r="2.2" fill="#4e6e38" opacity="0.75"/><circle cx="177.3" cy="259.7" r="2.9" fill="#7a9652" opacity="0.75"/><circle cx="25.6" cy="21.5" r="2.7" fill="#7a9652" opacity="0.75"/><circle cx="14.9" cy="133.5" r="3.6" fill="#4e6e38" opacity="0.75"/><circle cx="52.9" cy="14.8" r="4.0" fill="#6a8a48" opacity="0.75"/><circle cx="6.3" cy="59.6" r="2.8" fill="#7a9652" opacity="0.75"/><circle cx="83.2" cy="26.8" r="3.2" fill="#6a8a48" opacity="0.75"/><circle cx="69.1" cy="238.0" r="3.6" fill="#7a9652" opacity="0.75"/><circle cx="99.4" cy="258.8" r="3.8" fill="#73924c" opacity="0.75"/><circle cx="35.0" cy="79.8" r="3.9" fill="#6a8a48" opacity="0.75"/><circle cx="62.4" cy="15.5" r="4.1" fill="#73924c" opacity="0.75"/><circle cx="126.5" cy="3.9" r="2.1" fill="#73924c" opacity="0.75"/><circle cx="25.7" cy="110.4" r="4.4" fill="#73924c" opacity="0.75"/><circle cx="80.5" cy="101.7" r="2.0" fill="#6a8a48" opacity="0.75"/><circle cx="132.9" cy="262.1" r="4.0" fill="#6a8a48" opacity="0.75"/><circle cx="17.5" cy="166.3" r="2.5" fill="#73924c" opacity="0.75"/><circle cx="162.4" cy="139.1" r="4.6" fill="#7a9652" opacity="0.75"/><circle cx="182.6" cy="33.2" r="2.9" fill="#4e6e38" opacity="0.75"/><circle cx="103.8" cy="135.2" r="3.2" fill="#587a3e" opacity="0.75"/><circle cx="176.1" cy="297.4" r="3.5" fill="#5f7e42" opacity="0.75"/><circle cx="223.8" cy="187.5" r="2.3" fill="#7a9652" opacity="0.75"/><circle cx="94.0" cy="11.9" r="4.7" fill="#587a3e" opacity="0.75"/><circle cx="2.8" cy="181.4" r="3.3" fill="#587a3e" opacity="0.75"/><circle cx="42.5" cy="176.7" r="3.0" fill="#7a9652" opacity="0.75"/><circle cx="172.3" cy="73.0" r="3.0" fill="#7a9652" opacity="0.75"/><circle cx="53.6" cy="312.3" r="4.4" fill="#587a3e" opacity="0.75"/><circle cx="18.3" cy="226.8" r="4.5" fill="#4e6e38" opacity="0.75"/><circle cx="42.0" cy="252.4" r="2.9" fill="#73924c" opacity="0.75"/><circle cx="156.2" cy="273.8" r="3.7" fill="#4e6e38" opacity="0.75"/><circle cx="133.5" cy="54.7" r="3.1" fill="#5f7e42" opacity="0.75"/><circle cx="69.9" cy="3.7" r="2.9" fill="#5f7e42" opacity="0.75"/><circle cx="85.3" cy="148.8" r="4.0" fill="#4e6e38" opacity="0.75"/><circle cx="89.2" cy="312.3" r="4.3" fill="#4e6e38" opacity="0.75"/><circle cx="118.2" cy="86.8" r="2.2" fill="#587a3e" opacity="0.75"/><circle cx="15.6" cy="109.9" r="3.6" fill="#587a3e" opacity="0.75"/><circle cx="174.3" cy="225.8" r="2.9" fill="#587a3e" opacity="0.75"/><circle cx="214.3" cy="83.7" r="4.0" fill="#7a9652" opacity="0.75"/><circle cx="12.0" cy="238.3" r="3.9" fill="#5f7e42" opacity="0.75"/><circle cx="220.8" cy="284.8" r="3.9" fill="#5f7e42" opacity="0.75"/><circle cx="116.9" cy="284.5" r="2.7" fill="#6a8a48" opacity="0.75"/><circle cx="87.1" cy="52.5" r="3.8" fill="#4e6e38" opacity="0.75"/><circle cx="207.3" cy="289.0" r="3.7" fill="#587a3e" opacity="0.75"/><circle cx="86.3" cy="30.2" r="3.9" fill="#73924c" opacity="0.75"/><circle cx="125.6" cy="226.0" r="3.0" fill="#587a3e" opacity="0.75"/><circle cx="204.3" cy="63.7" r="2.9" fill="#6a8a48" opacity="0.75"/><circle cx="58.2" cy="196.0" r="4.5" fill="#5f7e42" opacity="0.75"/><circle cx="34.5" cy="199.4" r="4.1" fill="#5f7e42" opacity="0.75"/><circle cx="48.0" cy="15.2" r="3.6" fill="#73924c" opacity="0.75"/><circle cx="190.9" cy="278.8" r="4.0" fill="#6a8a48" opacity="0.75"/><circle cx="93.4" cy="132.4" r="3.5" fill="#6a8a48" opacity="0.75"/><circle cx="208.5" cy="92.7" r="2.8" fill="#4e6e38" opacity="0.75"/><circle cx="137.9" cy="307.2" r="2.5" fill="#6a8a48" opacity="0.75"/><circle cx="2.2" cy="32.3" r="3.6" fill="#587a3e" opacity="0.75"/><circle cx="137.4" cy="54.4" r="2.5" fill="#5f7e42" opacity="0.75"/><circle cx="135.3" cy="203.8" r="3.9" fill="#5f7e42" opacity="0.75"/><circle cx="167.0" cy="14.8" r="3.4" fill="#5f7e42" opacity="0.75"/><circle cx="192.0" cy="304.2" r="2.9" fill="#5f7e42" opacity="0.75"/><circle cx="159.4" cy="266.6" r="3.3" fill="#7a9652" opacity="0.75"/><circle cx="18.8" cy="57.5" r="2.4" fill="#5f7e42" opacity="0.75"/><circle cx="16.9" cy="44.1" r="3.7" fill="#587a3e" opacity="0.75"/><circle cx="19.8" cy="239.9" r="4.1" fill="#587a3e" opacity="0.75"/><circle cx="187.7" cy="254.6" r="4.0" fill="#73924c" opacity="0.75"/><circle cx="213.1" cy="304.1" r="3.8" fill="#587a3e" opacity="0.75"/><circle cx="222.8" cy="28.4" r="2.3" fill="#5f7e42" opacity="0.75"/><circle cx="10.2" cy="61.7" r="3.0" fill="#5f7e42" opacity="0.75"/><circle cx="103.2" cy="214.8" r="4.1" fill="#73924c" opacity="0.75"/><circle cx="14.8" cy="125.2" r="3.5" fill="#4e6e38" opacity="0.75"/><circle cx="83.5" cy="33.0" r="3.7" fill="#4e6e38" opacity="0.75"/><circle cx="83.4" cy="215.8" r="3.4" fill="#587a3e" opacity="0.75"/><circle cx="222.2" cy="300.2" r="2.2" fill="#5f7e42" opacity="0.75"/><circle cx="174.3" cy="228.0" r="2.8" fill="#4e6e38" opacity="0.75"/><circle cx="22.6" cy="149.7" r="3.0" fill="#4e6e38" opacity="0.75"/><circle cx="169.0" cy="291.6" r="3.1" fill="#7a9652" opacity="0.75"/><circle cx="63.6" cy="156.1" r="4.0" fill="#5f7e42" opacity="0.75"/><circle cx="181.2" cy="180.9" r="2.8" fill="#5f7e42" opacity="0.75"/><circle cx="74.5" cy="268.9" r="3.5" fill="#587a3e" opacity="0.75"/><circle cx="6.9" cy="130.9" r="2.7" fill="#587a3e" opacity="0.75"/><circle cx="152.2" cy="18.7" r="2.8" fill="#7a9652" opacity="0.75"/><circle cx="17.7" cy="149.3" r="4.8" fill="#7a9652" opacity="0.75"/><circle cx="122.8" cy="119.8" r="4.6" fill="#6a8a48" opacity="0.75"/><circle cx="16.7" cy="109.9" r="4.3" fill="#73924c" opacity="0.75"/><circle cx="-3.8" cy="242.4" r="3.0" fill="#587a3e" opacity="0.75"/><circle cx="-1.1" cy="76.0" r="3.3" fill="#4e6e38" opacity="0.75"/><circle cx="85.3" cy="161.9" r="2.1" fill="#587a3e" opacity="0.75"/><circle cx="46.6" cy="309.7" r="3.2" fill="#587a3e" opacity="0.75"/><circle cx="106.4" cy="22.6" r="2.8" fill="#5f7e42" opacity="0.75"/><circle cx="87.7" cy="246.4" r="3.2" fill="#4e6e38" opacity="0.75"/><circle cx="135.1" cy="286.5" r="3.8" fill="#6a8a48" opacity="0.75"/><circle cx="145.1" cy="6.6" r="2.1" fill="#587a3e" opacity="0.75"/><circle cx="176.6" cy="128.5" r="4.4" fill="#6a8a48" opacity="0.75"/><circle cx="189.9" cy="290.7" r="3.1" fill="#7a9652" opacity="0.75"/><circle cx="230.8" cy="239.3" r="4.5" fill="#73924c" opacity="0.75"/><circle cx="30.0" cy="247.2" r="3.2" fill="#6a8a48" opacity="0.75"/><circle cx="224.4" cy="316.1" r="2.6" fill="#4e6e38" opacity="0.75"/><circle cx="94.5" cy="82.5" r="3.3" fill="#6a8a48" opacity="0.75"/><circle cx="62.6" cy="210.3" r="2.3" fill="#4e6e38" opacity="0.75"/><circle cx="34.9" cy="142.8" r="2.2" fill="#73924c" opacity="0.75"/><circle cx="85.0" cy="284.9" r="4.5" fill="#587a3e" opacity="0.75"/><circle cx="41.4" cy="1.0" r="4.3" fill="#587a3e" opacity="0.75"/><circle cx="212.2" cy="297.8" r="2.1" fill="#73924c" opacity="0.75"/><circle cx="38.6" cy="133.6" r="2.7" fill="#73924c" opacity="0.75"/><circle cx="172.9" cy="115.5" r="4.2" fill="#4e6e38" opacity="0.75"/><circle cx="30.9" cy="162.4" r="4.7" fill="#4e6e38" opacity="0.75"/><circle cx="160.7" cy="24.1" r="2.3" fill="#73924c" opacity="0.75"/><circle cx="146.9" cy="116.1" r="3.0" fill="#587a3e" opacity="0.75"/><circle cx="107.7" cy="182.9" r="4.7" fill="#7a9652" opacity="0.75"/><circle cx="51.9" cy="178.7" r="2.7" fill="#587a3e" opacity="0.75"/><circle cx="123.7" cy="231.3" r="2.4" fill="#4e6e38" opacity="0.75"/><circle cx="108.6" cy="223.0" r="2.0" fill="#587a3e" opacity="0.75"/><circle cx="177.0" cy="130.3" r="3.4" fill="#587a3e" opacity="0.75"/><circle cx="139.1" cy="251.1" r="2.2" fill="#4e6e38" opacity="0.75"/><circle cx="113.1" cy="7.4" r="3.1" fill="#4e6e38" opacity="0.75"/><circle cx="76.6" cy="1.9" r="2.8" fill="#6a8a48" opacity="0.75"/><circle cx="101.2" cy="206.5" r="4.6" fill="#7a9652" opacity="0.75"/><circle cx="82.4" cy="166.2" r="4.0" fill="#587a3e" opacity="0.75"/><circle cx="216.2" cy="301.7" r="4.8" fill="#6a8a48" opacity="0.75"/><circle cx="66.2" cy="48.8" r="4.6" fill="#73924c" opacity="0.75"/><circle cx="13.3" cy="139.9" r="4.1" fill="#6a8a48" opacity="0.75"/><circle cx="119.8" cy="120.6" r="4.6" fill="#73924c" opacity="0.75"/><circle cx="65.6" cy="173.2" r="4.3" fill="#7a9652" opacity="0.75"/><circle cx="27.6" cy="108.4" r="3.4" fill="#5f7e42" opacity="0.75"/><circle cx="128.6" cy="62.0" r="3.3" fill="#587a3e" opacity="0.75"/><circle cx="9.1" cy="23.4" r="3.0" fill="#587a3e" opacity="0.75"/><circle cx="28.9" cy="307.5" r="2.7" fill="#4e6e38" opacity="0.75"/><circle cx="60.1" cy="248.1" r="4.1" fill="#4e6e38" opacity="0.75"/><circle cx="56.9" cy="262.8" r="3.8" fill="#73924c" opacity="0.75"/><circle cx="86.7" cy="198.1" r="2.7" fill="#587a3e" opacity="0.75"/><circle cx="57.2" cy="278.1" r="3.2" fill="#7a9652" opacity="0.75"/><circle cx="206.8" cy="52.1" r="2.4" fill="#73924c" opacity="0.75"/><circle cx="7.3" cy="233.9" r="3.6" fill="#4e6e38" opacity="0.75"/><circle cx="-2.7" cy="9.0" r="4.3" fill="#7a9652" opacity="0.75"/><circle cx="111.7" cy="276.4" r="2.1" fill="#4e6e38" opacity="0.75"/><circle cx="134.0" cy="32.9" r="4.0" fill="#73924c" opacity="0.75"/><circle cx="139.3" cy="192.7" r="2.6" fill="#4e6e38" opacity="0.75"/><circle cx="219.0" cy="30.9" r="2.2" fill="#7a9652" opacity="0.75"/><circle cx="156.4" cy="25.0" r="2.2" fill="#587a3e" opacity="0.75"/><circle cx="103.6" cy="204.6" r="4.5" fill="#4e6e38" opacity="0.75"/><circle cx="165.1" cy="17.4" r="3.8" fill="#7a9652" opacity="0.75"/><circle cx="65.5" cy="-4.5" r="4.1" fill="#4e6e38" opacity="0.75"/><circle cx="116.7" cy="286.3" r="3.3" fill="#73924c" opacity="0.75"/><circle cx="31.7" cy="64.9" r="2.7" fill="#4e6e38" opacity="0.75"/><circle cx="218.4" cy="61.3" r="2.2" fill="#7a9652" opacity="0.75"/><circle cx="78.2" cy="20.6" r="3.2" fill="#587a3e" opacity="0.75"/><circle cx="141.7" cy="205.2" r="2.5" fill="#587a3e" opacity="0.75"/><circle cx="27.8" cy="153.7" r="3.9" fill="#7a9652" opacity="0.75"/><circle cx="100.5" cy="180.2" r="4.6" fill="#6a8a48" opacity="0.75"/><circle cx="29.2" cy="81.5" r="3.4" fill="#7a9652" opacity="0.75"/><circle cx="121.5" cy="285.8" r="3.6" fill="#73924c" opacity="0.75"/><circle cx="151.3" cy="130.5" r="4.2" fill="#7a9652" opacity="0.75"/><circle cx="192.3" cy="89.8" r="2.3" fill="#73924c" opacity="0.75"/><circle cx="56.2" cy="110.5" r="4.5" fill="#587a3e" opacity="0.75"/><circle cx="57.4" cy="198.3" r="3.8" fill="#5f7e42" opacity="0.75"/><circle cx="220.7" cy="32.6" r="4.2" fill="#5f7e42" opacity="0.75"/><circle cx="74.4" cy="28.3" r="3.8" fill="#6a8a48" opacity="0.75"/><circle cx="194.3" cy="183.1" r="2.1" fill="#587a3e" opacity="0.75"/><circle cx="85.7" cy="200.5" r="4.0" fill="#73924c" opacity="0.75"/><circle cx="56.5" cy="126.9" r="2.9" fill="#7a9652" opacity="0.75"/><circle cx="17.6" cy="15.8" r="4.0" fill="#73924c" opacity="0.75"/><circle cx="91.9" cy="275.9" r="2.2" fill="#5f7e42" opacity="0.75"/><circle cx="66.1" cy="53.2" r="4.6" fill="#4e6e38" opacity="0.75"/><circle cx="181.6" cy="284.5" r="3.4" fill="#587a3e" opacity="0.75"/><circle cx="19.6" cy="129.4" r="2.6" fill="#6a8a48" opacity="0.75"/><circle cx="1.3" cy="177.5" r="2.8" fill="#5f7e42" opacity="0.75"/><circle cx="20.5" cy="160.2" r="4.6" fill="#6a8a48" opacity="0.75"/><circle cx="218.3" cy="145.6" r="2.3" fill="#6a8a48" opacity="0.75"/><circle cx="22.1" cy="168.6" r="2.2" fill="#73924c" opacity="0.75"/><circle cx="125.0" cy="309.3" r="3.2" fill="#7a9652" opacity="0.75"/><circle cx="44.4" cy="161.2" r="4.6" fill="#6a8a48" opacity="0.75"/><circle cx="85.1" cy="199.7" r="4.6" fill="#587a3e" opacity="0.75"/><circle cx="71.9" cy="256.9" r="3.5" fill="#587a3e" opacity="0.75"/><circle cx="27.9" cy="12.3" r="4.6" fill="#7a9652" opacity="0.75"/><circle cx="105.0" cy="138.1" r="4.6" fill="#6a8a48" opacity="0.75"/><circle cx="130.5" cy="156.6" r="2.8" fill="#73924c" opacity="0.75"/><circle cx="170.6" cy="77.8" r="3.3" fill="#73924c" opacity="0.75"/><circle cx="174.0" cy="190.4" r="2.4" fill="#6a8a48" opacity="0.75"/><circle cx="42.8" cy="219.5" r="4.0" fill="#7a9652" opacity="0.75"/><circle cx="19.2" cy="317.2" r="2.4" fill="#6a8a48" opacity="0.75"/><circle cx="34.6" cy="24.0" r="3.2" fill="#587a3e" opacity="0.75"/><circle cx="141.2" cy="271.9" r="2.5" fill="#4e6e38" opacity="0.75"/><circle cx="159.9" cy="29.0" r="3.6" fill="#7a9652" opacity="0.75"/><circle cx="54.4" cy="110.1" r="2.1" fill="#7a9652" opacity="0.75"/><circle cx="134.6" cy="201.4" r="3.4" fill="#5f7e42" opacity="0.75"/><circle cx="201.2" cy="292.0" r="2.8" fill="#4e6e38" opacity="0.75"/><circle cx="73.8" cy="278.3" r="2.4" fill="#4e6e38" opacity="0.75"/><circle cx="94.1" cy="128.9" r="4.7" fill="#5f7e42" opacity="0.75"/><circle cx="25.3" cy="206.6" r="4.1" fill="#4e6e38" opacity="0.75"/><circle cx="166.9" cy="-4.7" r="4.6" fill="#7a9652" opacity="0.75"/><circle cx="68.7" cy="270.5" r="3.9" fill="#4e6e38" opacity="0.75"/><circle cx="94.3" cy="265.6" r="3.9" fill="#4e6e38" opacity="0.75"/><circle cx="75.2" cy="231.4" r="3.4" fill="#4e6e38" opacity="0.75"/><circle cx="162.9" cy="193.4" r="4.2" fill="#7a9652" opacity="0.75"/><circle cx="32.6" cy="154.7" r="2.0" fill="#7a9652" opacity="0.75"/><circle cx="181.6" cy="244.2" r="4.3" fill="#73924c" opacity="0.75"/><circle cx="5.2" cy="167.9" r="3.3" fill="#73924c" opacity="0.75"/><circle cx="23.2" cy="60.4" r="4.7" fill="#587a3e" opacity="0.75"/><circle cx="196.2" cy="71.9" r="4.3" fill="#5f7e42" opacity="0.75"/><circle cx="148.6" cy="119.3" r="3.8" fill="#4e6e38" opacity="0.75"/><circle cx="49.0" cy="83.4" r="2.0" fill="#73924c" opacity="0.75"/><circle cx="150.0" cy="182.8" r="4.1" fill="#5f7e42" opacity="0.75"/><circle cx="113.9" cy="135.5" r="2.9" fill="#6a8a48" opacity="0.75"/><circle cx="168.5" cy="115.4" r="3.7" fill="#7a9652" opacity="0.75"/><circle cx="173.8" cy="138.6" r="3.9" fill="#73924c" opacity="0.75"/><circle cx="9.5" cy="79.1" r="4.4" fill="#5f7e42" opacity="0.75"/><circle cx="29.8" cy="13.4" r="2.0" fill="#7a9652" opacity="0.75"/><circle cx="182.7" cy="242.9" r="3.7" fill="#7a9652" opacity="0.75"/><circle cx="192.0" cy="193.3" r="4.0" fill="#7a9652" opacity="0.75"/><circle cx="140.7" cy="1.5" r="4.5" fill="#7a9652" opacity="0.75"/><circle cx="228.5" cy="60.0" r="2.2" fill="#587a3e" opacity="0.75"/><circle cx="75.2" cy="27.3" r="3.0" fill="#7a9652" opacity="0.75"/><circle cx="16.1" cy="66.1" r="2.0" fill="#7a9652" opacity="0.75"/><circle cx="96.2" cy="91.9" r="4.0" fill="#587a3e" opacity="0.75"/><circle cx="86.7" cy="48.6" r="4.7" fill="#7a9652" opacity="0.75"/><circle cx="101.4" cy="127.0" r="2.1" fill="#7a9652" opacity="0.75"/><circle cx="102.5" cy="243.0" r="3.9" fill="#6a8a48" opacity="0.75"/><circle cx="198.0" cy="215.6" r="4.1" fill="#5f7e42" opacity="0.75"/><circle cx="211.4" cy="251.2" r="3.2" fill="#4e6e38" opacity="0.75"/><circle cx="150.7" cy="207.6" r="4.5" fill="#73924c" opacity="0.75"/><circle cx="163.4" cy="138.2" r="2.5" fill="#6a8a48" opacity="0.75"/><circle cx="72.3" cy="75.9" r="3.9" fill="#4e6e38" opacity="0.75"/><circle cx="176.6" cy="57.0" r="3.5" fill="#6a8a48" opacity="0.75"/><circle cx="80.5" cy="41.5" r="2.8" fill="#4e6e38" opacity="0.75"/><circle cx="-3.4" cy="43.1" r="3.2" fill="#7a9652" opacity="0.75"/><circle cx="19.8" cy="-3.1" r="3.5" fill="#73924c" opacity="0.75"/><circle cx="221.0" cy="264.4" r="2.9" fill="#7a9652" opacity="0.75"/><circle cx="213.2" cy="20.8" r="2.4" fill="#7a9652" opacity="0.75"/><circle cx="-3.4" cy="13.9" r="3.7" fill="#5f7e42" opacity="0.75"/><circle cx="173.6" cy="149.3" r="4.2" fill="#4e6e38" opacity="0.75"/><circle cx="101.5" cy="291.7" r="3.7" fill="#4e6e38" opacity="0.75"/><circle cx="121.7" cy="50.1" r="3.2" fill="#7a9652" opacity="0.75"/><circle cx="98.9" cy="260.8" r="2.6" fill="#73924c" opacity="0.75"/><circle cx="64.5" cy="258.8" r="2.2" fill="#4e6e38" opacity="0.75"/><circle cx="121.7" cy="65.9" r="3.9" fill="#6a8a48" opacity="0.75"/><circle cx="135.3" cy="25.5" r="4.0" fill="#587a3e" opacity="0.75"/><circle cx="91.1" cy="98.6" r="4.4" fill="#5f7e42" opacity="0.75"/><circle cx="178.8" cy="95.0" r="3.9" fill="#5f7e42" opacity="0.75"/><circle cx="24.1" cy="162.6" r="2.2" fill="#6a8a48" opacity="0.75"/><circle cx="146.2" cy="290.9" r="3.8" fill="#5f7e42" opacity="0.75"/><circle cx="4.6" cy="160.7" r="3.3" fill="#6a8a48" opacity="0.75"/><circle cx="99.6" cy="43.8" r="2.8" fill="#73924c" opacity="0.75"/><circle cx="101.1" cy="18.0" r="3.9" fill="#5f7e42" opacity="0.75"/><circle cx="52.5" cy="88.8" r="2.3" fill="#73924c" opacity="0.75"/><circle cx="66.4" cy="295.8" r="2.8" fill="#73924c" opacity="0.75"/><circle cx="17.6" cy="106.7" r="4.6" fill="#5f7e42" opacity="0.75"/><circle cx="15.8" cy="105.6" r="2.6" fill="#587a3e" opacity="0.75"/><circle cx="155.9" cy="144.1" r="2.3" fill="#4e6e38" opacity="0.75"/><circle cx="198.5" cy="101.0" r="3.9" fill="#6a8a48" opacity="0.75"/><circle cx="101.9" cy="276.6" r="2.2" fill="#7a9652" opacity="0.75"/><circle cx="48.8" cy="87.3" r="2.7" fill="#6a8a48" opacity="0.75"/><circle cx="140.2" cy="126.0" r="3.2" fill="#4e6e38" opacity="0.75"/><circle cx="26.1" cy="136.8" r="4.5" fill="#587a3e" opacity="0.75"/><circle cx="67.2" cy="113.0" r="3.7" fill="#6a8a48" opacity="0.75"/><circle cx="134.3" cy="51.6" r="3.2" fill="#6a8a48" opacity="0.75"/><circle cx="168.2" cy="8.4" r="2.3" fill="#6a8a48" opacity="0.75"/><circle cx="173.3" cy="287.4" r="2.2" fill="#73924c" opacity="0.75"/><circle cx="14.2" cy="197.4" r="2.8" fill="#4e6e38" opacity="0.75"/><circle cx="149.9" cy="6.1" r="3.3" fill="#4e6e38" opacity="0.75"/><circle cx="33.2" cy="102.3" r="3.9" fill="#73924c" opacity="0.75"/><circle cx="115.4" cy="270.7" r="4.4" fill="#6a8a48" opacity="0.75"/><circle cx="141.2" cy="268.7" r="2.5" fill="#73924c" opacity="0.75"/><circle cx="107.0" cy="98.2" r="3.7" fill="#73924c" opacity="0.75"/><circle cx="21.3" cy="280.9" r="3.0" fill="#4e6e38" opacity="0.75"/><circle cx="180.0" cy="299.5" r="4.6" fill="#6a8a48" opacity="0.75"/><circle cx="87.1" cy="271.8" r="4.8" fill="#7a9652" opacity="0.75"/><circle cx="25.7" cy="236.4" r="4.0" fill="#7a9652" opacity="0.75"/><circle cx="103.0" cy="84.8" r="2.5" fill="#5f7e42" opacity="0.75"/><circle cx="92.2" cy="296.0" r="3.1" fill="#7a9652" opacity="0.75"/><circle cx="55.3" cy="195.1" r="3.2" fill="#73924c" opacity="0.75"/><circle cx="139.8" cy="141.8" r="2.8" fill="#7a9652" opacity="0.75"/><circle cx="3.4" cy="259.3" r="3.8" fill="#4e6e38" opacity="0.75"/><circle cx="52.5" cy="156.3" r="3.6" fill="#4e6e38" opacity="0.75"/><circle cx="113.8" cy="286.0" r="4.2" fill="#5f7e42" opacity="0.75"/><circle cx="67.3" cy="104.4" r="3.7" fill="#7a9652" opacity="0.75"/><circle cx="33.3" cy="296.7" r="2.1" fill="#73924c" opacity="0.75"/><circle cx="112.9" cy="83.3" r="3.5" fill="#73924c" opacity="0.75"/><circle cx="5.8" cy="67.4" r="4.8" fill="#5f7e42" opacity="0.75"/><circle cx="181.0" cy="66.4" r="3.3" fill="#6a8a48" opacity="0.75"/><circle cx="2.7" cy="34.4" r="2.5" fill="#73924c" opacity="0.75"/><circle cx="227.3" cy="95.7" r="2.7" fill="#7a9652" opacity="0.75"/><circle cx="10.4" cy="30.5" r="4.8" fill="#4e6e38" opacity="0.75"/><circle cx="169.7" cy="292.3" r="4.3" fill="#587a3e" opacity="0.75"/><circle cx="179.7" cy="77.4" r="2.5" fill="#73924c" opacity="0.75"/><circle cx="58.7" cy="16.1" r="2.5" fill="#587a3e" opacity="0.75"/><circle cx="164.9" cy="153.6" r="2.0" fill="#4e6e38" opacity="0.75"/><circle cx="66.9" cy="269.4" r="4.4" fill="#587a3e" opacity="0.75"/><circle cx="167.2" cy="231.3" r="4.6" fill="#587a3e" opacity="0.75"/><circle cx="126.5" cy="118.8" r="3.6" fill="#7a9652" opacity="0.75"/><circle cx="61.7" cy="6.8" r="2.7" fill="#7a9652" opacity="0.75"/><circle cx="103.0" cy="33.8" r="2.2" fill="#7a9652" opacity="0.75"/><circle cx="53.4" cy="113.9" r="4.7" fill="#7a9652" opacity="0.75"/><circle cx="109.9" cy="265.3" r="4.1" fill="#4e6e38" opacity="0.75"/><circle cx="134.8" cy="99.1" r="3.1" fill="#4e6e38" opacity="0.75"/><circle cx="69.8" cy="199.9" r="4.4" fill="#7a9652" opacity="0.75"/><circle cx="181.6" cy="90.4" r="2.4" fill="#73924c" opacity="0.75"/><circle cx="-2.9" cy="183.8" r="2.6" fill="#5f7e42" opacity="0.75"/><circle cx="-3.7" cy="92.6" r="2.6" fill="#6a8a48" opacity="0.75"/><circle cx="43.4" cy="209.6" r="3.6" fill="#5f7e42" opacity="0.75"/><circle cx="61.5" cy="231.0" r="2.6" fill="#4e6e38" opacity="0.75"/><circle cx="212.4" cy="33.4" r="3.7" fill="#4e6e38" opacity="0.75"/><circle cx="161.4" cy="231.6" r="3.4" fill="#4e6e38" opacity="0.75"/><circle cx="39.1" cy="145.4" r="3.5" fill="#587a3e" opacity="0.75"/><circle cx="17.5" cy="234.6" r="3.0" fill="#5f7e42" opacity="0.75"/><circle cx="107.1" cy="163.6" r="4.3" fill="#6a8a48" opacity="0.75"/><circle cx="66.3" cy="175.8" r="3.7" fill="#4e6e38" opacity="0.75"/><circle cx="149.7" cy="95.8" r="2.8" fill="#5f7e42" opacity="0.75"/><circle cx="106.0" cy="189.1" r="3.8" fill="#4e6e38" opacity="0.75"/><circle cx="26.6" cy="139.1" r="3.6" fill="#5f7e42" opacity="0.75"/><circle cx="41.0" cy="28.0" r="4.6" fill="#4e6e38" opacity="0.75"/><circle cx="-0.1" cy="156.1" r="2.8" fill="#7a9652" opacity="0.75"/><circle cx="2.3" cy="82.2" r="2.5" fill="#5f7e42" opacity="0.75"/><circle cx="89.4" cy="288.9" r="2.2" fill="#73924c" opacity="0.75"/><circle cx="78.0" cy="219.5" r="3.7" fill="#5f7e42" opacity="0.75"/><circle cx="-0.1" cy="68.9" r="2.8" fill="#7a9652" opacity="0.75"/><circle cx="109.5" cy="43.3" r="3.9" fill="#587a3e" opacity="0.75"/><circle cx="165.1" cy="149.2" r="3.5" fill="#5f7e42" opacity="0.75"/><circle cx="176.8" cy="303.9" r="3.7" fill="#587a3e" opacity="0.75"/><circle cx="5.5" cy="158.2" r="3.9" fill="#4e6e38" opacity="0.75"/><circle cx="73.1" cy="216.0" r="3.0" fill="#587a3e" opacity="0.75"/><circle cx="140.5" cy="193.4" r="3.9" fill="#5f7e42" opacity="0.75"/><circle cx="213.4" cy="223.6" r="4.0" fill="#587a3e" opacity="0.75"/><circle cx="49.4" cy="193.4" r="3.7" fill="#587a3e" opacity="0.75"/><circle cx="9.4" cy="238.6" r="2.6" fill="#7a9652" opacity="0.75"/><circle cx="111.1" cy="164.2" r="4.0" fill="#73924c" opacity="0.75"/><circle cx="175.6" cy="146.2" r="4.6" fill="#587a3e" opacity="0.75"/><circle cx="99.5" cy="178.0" r="4.8" fill="#4e6e38" opacity="0.75"/><circle cx="71.4" cy="225.6" r="4.7" fill="#7a9652" opacity="0.75"/><circle cx="14.9" cy="246.0" r="3.8" fill="#73924c" opacity="0.75"/><circle cx="122.4" cy="250.0" r="4.4" fill="#5f7e42" opacity="0.75"/><circle cx="29.6" cy="152.2" r="3.7" fill="#6a8a48" opacity="0.75"/><circle cx="159.9" cy="304.6" r="4.2" fill="#4e6e38" opacity="0.75"/><circle cx="190.5" cy="15.9" r="3.2" fill="#587a3e" opacity="0.75"/><circle cx="210.6" cy="300.6" r="4.1" fill="#587a3e" opacity="0.75"/><circle cx="73.7" cy="243.7" r="3.5" fill="#4e6e38" opacity="0.75"/><circle cx="152.5" cy="200.9" r="4.4" fill="#73924c" opacity="0.75"/><circle cx="163.6" cy="308.5" r="3.4" fill="#587a3e" opacity="0.75"/><circle cx="111.5" cy="207.4" r="3.6" fill="#7a9652" opacity="0.75"/><circle cx="6.6" cy="304.8" r="2.9" fill="#5f7e42" opacity="0.75"/><circle cx="112.9" cy="8.7" r="2.5" fill="#6a8a48" opacity="0.75"/><circle cx="214.2" cy="84.6" r="2.8" fill="#4e6e38" opacity="0.75"/><circle cx="186.6" cy="73.0" r="3.9" fill="#73924c" opacity="0.75"/><circle cx="129.1" cy="284.5" r="3.3" fill="#5f7e42" opacity="0.75"/><circle cx="72.6" cy="78.7" r="3.0" fill="#587a3e" opacity="0.75"/><circle cx="-5.0" cy="33.6" r="2.4" fill="#6a8a48" opacity="0.75"/><circle cx="69.2" cy="243.2" r="4.6" fill="#7a9652" opacity="0.75"/><circle cx="78.6" cy="75.7" r="2.8" fill="#587a3e" opacity="0.75"/><circle cx="143.4" cy="149.6" r="2.3" fill="#4e6e38" opacity="0.75"/><circle cx="118.6" cy="81.9" r="2.4" fill="#587a3e" opacity="0.75"/><circle cx="180.3" cy="29.0" r="3.2" fill="#587a3e" opacity="0.75"/><circle cx="123.1" cy="277.2" r="2.9" fill="#73924c" opacity="0.75"/><circle cx="218.3" cy="9.1" r="4.5" fill="#5f7e42" opacity="0.75"/><circle cx="95.1" cy="-4.0" r="2.7" fill="#4e6e38" opacity="0.75"/><circle cx="228.4" cy="226.4" r="4.1" fill="#73924c" opacity="0.75"/><circle cx="-3.5" cy="94.1" r="3.3" fill="#6a8a48" opacity="0.75"/><circle cx="209.6" cy="288.3" r="2.4" fill="#73924c" opacity="0.75"/><circle cx="95.7" cy="163.2" r="3.3" fill="#5f7e42" opacity="0.75"/><circle cx="68.3" cy="301.1" r="3.3" fill="#73924c" opacity="0.75"/><circle cx="67.6" cy="246.2" r="2.7" fill="#7a9652" opacity="0.75"/><circle cx="94.8" cy="28.6" r="2.7" fill="#6a8a48" opacity="0.75"/><circle cx="153.6" cy="163.4" r="3.0" fill="#7a9652" opacity="0.75"/><circle cx="29.8" cy="4.5" r="2.3" fill="#5f7e42" opacity="0.75"/><circle cx="90.6" cy="-1.7" r="3.9" fill="#73924c" opacity="0.75"/><circle cx="74.6" cy="70.4" r="2.9" fill="#73924c" opacity="0.75"/><circle cx="111.3" cy="62.7" r="4.4" fill="#5f7e42" opacity="0.75"/><circle cx="109.0" cy="17.2" r="2.2" fill="#587a3e" opacity="0.75"/><circle cx="205.1" cy="181.7" r="2.8" fill="#587a3e" opacity="0.75"/><circle cx="5.9" cy="282.1" r="4.6" fill="#5f7e42" opacity="0.75"/><circle cx="151.8" cy="11.3" r="3.2" fill="#7a9652" opacity="0.75"/><circle cx="10.0" cy="163.6" r="2.5" fill="#5f7e42" opacity="0.75"/><circle cx="100.1" cy="284.3" r="4.5" fill="#7a9652" opacity="0.75"/><circle cx="111.1" cy="248.2" r="2.4" fill="#5f7e42" opacity="0.75"/><circle cx="218.7" cy="274.6" r="3.4" fill="#587a3e" opacity="0.75"/><circle cx="204.1" cy="91.0" r="4.7" fill="#587a3e" opacity="0.75"/><circle cx="71.2" cy="293.6" r="4.3" fill="#587a3e" opacity="0.75"/><circle cx="149.7" cy="288.5" r="3.9" fill="#4e6e38" opacity="0.75"/><circle cx="4.2" cy="107.3" r="3.0" fill="#4e6e38" opacity="0.75"/><circle cx="35.4" cy="67.7" r="3.4" fill="#73924c" opacity="0.75"/><circle cx="83.0" cy="81.3" r="3.2" fill="#5f7e42" opacity="0.75"/><circle cx="218.5" cy="187.7" r="4.1" fill="#6a8a48" opacity="0.75"/><circle cx="2.3" cy="279.4" r="2.3" fill="#6a8a48" opacity="0.75"/><circle cx="41.3" cy="233.8" r="4.1" fill="#587a3e" opacity="0.75"/><circle cx="140.1" cy="148.8" r="4.0" fill="#587a3e" opacity="0.75"/><circle cx="96.0" cy="57.8" r="2.6" fill="#4e6e38" opacity="0.75"/><circle cx="21.6" cy="6.9" r="4.7" fill="#6a8a48" opacity="0.75"/><circle cx="219.2" cy="107.6" r="3.2" fill="#5f7e42" opacity="0.75"/><circle cx="60.8" cy="247.4" r="3.4" fill="#7a9652" opacity="0.75"/><circle cx="35.2" cy="280.6" r="4.6" fill="#4e6e38" opacity="0.75"/><circle cx="6.0" cy="143.3" r="2.6" fill="#73924c" opacity="0.75"/><circle cx="145.8" cy="110.9" r="2.8" fill="#6a8a48" opacity="0.75"/><circle cx="66.4" cy="191.2" r="3.4" fill="#5f7e42" opacity="0.75"/><circle cx="110.1" cy="214.8" r="3.3" fill="#587a3e" opacity="0.75"/><circle cx="218.5" cy="136.7" r="4.2" fill="#587a3e" opacity="0.75"/><circle cx="141.7" cy="185.4" r="4.2" fill="#5f7e42" opacity="0.75"/><circle cx="163.0" cy="57.5" r="3.2" fill="#5f7e42" opacity="0.75"/><circle cx="32.0" cy="1.8" r="3.9" fill="#587a3e" opacity="0.75"/><circle cx="72.6" cy="77.3" r="2.1" fill="#5f7e42" opacity="0.75"/><circle cx="0.3" cy="212.0" r="3.0" fill="#5f7e42" opacity="0.75"/><circle cx="97.9" cy="213.3" r="4.5" fill="#5f7e42" opacity="0.75"/><circle cx="160.4" cy="65.8" r="4.8" fill="#587a3e" opacity="0.75"/><circle cx="38.3" cy="182.6" r="3.8" fill="#6a8a48" opacity="0.75"/><circle cx="62.8" cy="282.1" r="3.7" fill="#5f7e42" opacity="0.75"/><circle cx="162.6" cy="39.8" r="4.3" fill="#6a8a48" opacity="0.75"/><circle cx="62.8" cy="194.6" r="4.1" fill="#6a8a48" opacity="0.75"/><circle cx="71.0" cy="80.7" r="2.9" fill="#7a9652" opacity="0.75"/><circle cx="149.8" cy="79.7" r="2.2" fill="#587a3e" opacity="0.75"/><circle cx="20.8" cy="183.0" r="3.7" fill="#73924c" opacity="0.75"/><circle cx="225.8" cy="195.6" r="4.4" fill="#6a8a48" opacity="0.75"/><circle cx="112.2" cy="131.2" r="3.3" fill="#6a8a48" opacity="0.75"/><circle cx="82.7" cy="240.5" r="3.6" fill="#5f7e42" opacity="0.75"/><circle cx="23.9" cy="303.6" r="3.5" fill="#5f7e42" opacity="0.75"/><circle cx="171.7" cy="171.8" r="3.6" fill="#73924c" opacity="0.75"/><circle cx="131.0" cy="32.0" r="2.4" fill="#587a3e" opacity="0.75"/><circle cx="167.5" cy="107.9" r="2.4" fill="#5f7e42" opacity="0.75"/><circle cx="187.5" cy="236.6" r="4.1" fill="#7a9652" opacity="0.75"/><circle cx="86.4" cy="37.5" r="4.1" fill="#73924c" opacity="0.75"/><circle cx="45.9" cy="210.8" r="4.0" fill="#4e6e38" opacity="0.75"/><circle cx="59.5" cy="-4.3" r="3.7" fill="#6a8a48" opacity="0.75"/><circle cx="181.5" cy="185.1" r="4.8" fill="#4e6e38" opacity="0.75"/><circle cx="48.9" cy="231.1" r="3.2" fill="#4e6e38" opacity="0.75"/><circle cx="131.9" cy="92.6" r="2.6" fill="#5f7e42" opacity="0.75"/><circle cx="124.4" cy="191.2" r="4.5" fill="#4e6e38" opacity="0.75"/><circle cx="137.5" cy="156.4" r="3.8" fill="#6a8a48" opacity="0.75"/><circle cx="143.2" cy="126.8" r="2.7" fill="#6a8a48" opacity="0.75"/><circle cx="156.0" cy="120.0" r="2.1" fill="#7a9652" opacity="0.75"/><circle cx="35.1" cy="111.0" r="3.9" fill="#5f7e42" opacity="0.75"/><circle cx="149.9" cy="153.3" r="4.3" fill="#7a9652" opacity="0.75"/><circle cx="72.1" cy="108.4" r="4.1" fill="#6a8a48" opacity="0.75"/><circle cx="155.3" cy="132.6" r="4.5" fill="#587a3e" opacity="0.75"/><circle cx="1.2" cy="168.3" r="4.4" fill="#587a3e" opacity="0.75"/><circle cx="202.5" cy="57.4" r="4.3" fill="#7a9652" opacity="0.75"/><circle cx="120.8" cy="297.1" r="2.9" fill="#6a8a48" opacity="0.75"/><circle cx="151.8" cy="202.3" r="4.8" fill="#73924c" opacity="0.75"/><circle cx="75.0" cy="120.8" r="2.3" fill="#7a9652" opacity="0.75"/><circle cx="156.4" cy="17.7" r="4.4" fill="#6a8a48" opacity="0.75"/><circle cx="29.5" cy="56.6" r="4.7" fill="#6a8a48" opacity="0.75"/><circle cx="112.6" cy="238.8" r="3.0" fill="#73924c" opacity="0.75"/><circle cx="52.2" cy="114.0" r="4.8" fill="#73924c" opacity="0.75"/><circle cx="40.3" cy="287.3" r="4.5" fill="#587a3e" opacity="0.75"/><circle cx="155.6" cy="80.8" r="4.0" fill="#6a8a48" opacity="0.75"/><circle cx="143.7" cy="10.5" r="2.0" fill="#4e6e38" opacity="0.75"/><circle cx="83.3" cy="78.1" r="3.4" fill="#73924c" opacity="0.75"/><circle cx="12.3" cy="175.8" r="3.9" fill="#4e6e38" opacity="0.75"/><circle cx="69.8" cy="182.9" r="3.5" fill="#73924c" opacity="0.75"/><circle cx="181.2" cy="181.1" r="3.8" fill="#7a9652" opacity="0.75"/><circle cx="128.0" cy="260.8" r="2.3" fill="#4e6e38" opacity="0.75"/><circle cx="21.9" cy="274.6" r="4.3" fill="#587a3e" opacity="0.75"/><circle cx="-3.1" cy="283.8" r="3.7" fill="#4e6e38" opacity="0.75"/><circle cx="175.5" cy="224.3" r="3.3" fill="#7a9652" opacity="0.75"/><circle cx="58.9" cy="112.6" r="4.6" fill="#6a8a48" opacity="0.75"/><circle cx="104.3" cy="62.8" r="4.8" fill="#6a8a48" opacity="0.75"/><circle cx="225.9" cy="52.1" r="2.6" fill="#4e6e38" opacity="0.75"/><circle cx="167.2" cy="120.0" r="3.3" fill="#5f7e42" opacity="0.75"/><circle cx="156.4" cy="83.2" r="3.7" fill="#6a8a48" opacity="0.75"/><circle cx="43.2" cy="66.5" r="3.5" fill="#7a9652" opacity="0.75"/><circle cx="95.9" cy="283.9" r="2.4" fill="#6a8a48" opacity="0.75"/><circle cx="211.2" cy="79.6" r="3.0" fill="#4e6e38" opacity="0.75"/><circle cx="20.1" cy="97.1" r="4.7" fill="#587a3e" opacity="0.75"/><circle cx="80.4" cy="265.0" r="4.7" fill="#4e6e38" opacity="0.75"/><circle cx="159.2" cy="54.5" r="3.2" fill="#5f7e42" opacity="0.75"/><circle cx="34.4" cy="75.6" r="2.9" fill="#5f7e42" opacity="0.75"/><circle cx="34.1" cy="214.6" r="3.5" fill="#587a3e" opacity="0.75"/><circle cx="63.7" cy="77.2" r="2.4" fill="#6a8a48" opacity="0.75"/><circle cx="22.0" cy="136.7" r="2.2" fill="#4e6e38" opacity="0.75"/><circle cx="118.3" cy="77.5" r="4.2" fill="#4e6e38" opacity="0.75"/><circle cx="58.0" cy="271.5" r="4.6" fill="#6a8a48" opacity="0.75"/><circle cx="214.4" cy="68.5" r="4.6" fill="#4e6e38" opacity="0.75"/><circle cx="106.4" cy="280.7" r="3.3" fill="#5f7e42" opacity="0.75"/><circle cx="122.7" cy="78.6" r="4.1" fill="#73924c" opacity="0.75"/><circle cx="81.8" cy="280.5" r="4.0" fill="#5f7e42" opacity="0.75"/><circle cx="96.2" cy="5.1" r="2.8" fill="#587a3e" opacity="0.75"/><circle cx="93.5" cy="114.6" r="3.6" fill="#5f7e42" opacity="0.75"/><circle cx="-3.8" cy="146.0" r="4.5" fill="#6a8a48" opacity="0.75"/><circle cx="230.8" cy="250.2" r="3.3" fill="#5f7e42" opacity="0.75"/><circle cx="112.0" cy="298.5" r="3.5" fill="#73924c" opacity="0.75"/><circle cx="136.2" cy="94.3" r="3.9" fill="#7a9652" opacity="0.75"/><circle cx="110.3" cy="299.7" r="4.8" fill="#5f7e42" opacity="0.75"/><circle cx="230.1" cy="302.1" r="2.1" fill="#73924c" opacity="0.75"/><circle cx="12.2" cy="104.5" r="4.3" fill="#4e6e38" opacity="0.75"/><circle cx="126.7" cy="77.9" r="2.3" fill="#587a3e" opacity="0.75"/><circle cx="54.0" cy="36.1" r="2.4" fill="#4e6e38" opacity="0.75"/><circle cx="170.8" cy="57.4" r="2.5" fill="#4e6e38" opacity="0.75"/><circle cx="141.3" cy="37.2" r="4.3" fill="#5f7e42" opacity="0.75"/><circle cx="148.4" cy="278.5" r="4.0" fill="#5f7e42" opacity="0.75"/><circle cx="167.4" cy="81.4" r="3.2" fill="#7a9652" opacity="0.75"/><circle cx="84.6" cy="121.6" r="4.6" fill="#73924c" opacity="0.75"/><circle cx="97.9" cy="253.1" r="3.8" fill="#7a9652" opacity="0.75"/><circle cx="14.5" cy="63.0" r="3.6" fill="#4e6e38" opacity="0.75"/><circle cx="181.3" cy="70.3" r="2.7" fill="#7a9652" opacity="0.75"/><circle cx="84.0" cy="143.3" r="3.2" fill="#5f7e42" opacity="0.75"/><circle cx="114.8" cy="46.9" r="3.1" fill="#4e6e38" opacity="0.75"/><circle cx="10.3" cy="207.0" r="4.4" fill="#587a3e" opacity="0.75"/><circle cx="126.1" cy="52.0" r="3.5" fill="#4e6e38" opacity="0.75"/><circle cx="112.3" cy="58.7" r="3.2" fill="#4e6e38" opacity="0.75"/><circle cx="143.7" cy="173.5" r="2.8" fill="#7a9652" opacity="0.75"/><circle cx="106.2" cy="126.4" r="3.8" fill="#6a8a48" opacity="0.75"/><circle cx="152.5" cy="73.7" r="2.7" fill="#7a9652" opacity="0.75"/><circle cx="212.7" cy="42.0" r="3.9" fill="#7a9652" opacity="0.75"/><circle cx="56.4" cy="153.6" r="3.3" fill="#4e6e38" opacity="0.75"/><circle cx="51.4" cy="51.9" r="4.7" fill="#7a9652" opacity="0.75"/><circle cx="4.1" cy="41.1" r="4.1" fill="#6a8a48" opacity="0.75"/><circle cx="82.6" cy="58.0" r="4.2" fill="#6a8a48" opacity="0.75"/><circle cx="226.6" cy="62.1" r="4.0" fill="#4e6e38" opacity="0.75"/><circle cx="88.6" cy="317.3" r="3.7" fill="#587a3e" opacity="0.75"/><circle cx="161.5" cy="44.4" r="2.2" fill="#6a8a48" opacity="0.75"/><circle cx="228.9" cy="293.3" r="3.8" fill="#73924c" opacity="0.75"/><circle cx="10.0" cy="221.4" r="4.8" fill="#7a9652" opacity="0.75"/><circle cx="179.7" cy="226.1" r="3.2" fill="#4e6e38" opacity="0.75"/><circle cx="144.2" cy="294.2" r="3.4" fill="#587a3e" opacity="0.75"/><circle cx="12.6" cy="41.9" r="4.7" fill="#73924c" opacity="0.75"/><circle cx="162.4" cy="297.1" r="2.4" fill="#587a3e" opacity="0.75"/><circle cx="19.9" cy="215.7" r="3.2" fill="#7a9652" opacity="0.75"/><circle cx="104.2" cy="70.2" r="4.1" fill="#587a3e" opacity="0.75"/><circle cx="179.4" cy="229.5" r="3.2" fill="#4e6e38" opacity="0.75"/><circle cx="110.8" cy="122.8" r="3.3" fill="#4e6e38" opacity="0.75"/><circle cx="71.9" cy="146.5" r="4.7" fill="#6a8a48" opacity="0.75"/><circle cx="184.2" cy="38.7" r="3.9" fill="#73924c" opacity="0.75"/><circle cx="76.4" cy="282.1" r="4.6" fill="#7a9652" opacity="0.75"/><circle cx="11.7" cy="196.9" r="3.1" fill="#6a8a48" opacity="0.75"/><circle cx="105.1" cy="172.1" r="4.4" fill="#73924c" opacity="0.75"/><circle cx="143.9" cy="281.9" r="2.7" fill="#6a8a48" opacity="0.75"/><circle cx="183.1" cy="121.5" r="2.5" fill="#6a8a48" opacity="0.75"/><circle cx="131.2" cy="67.8" r="4.5" fill="#587a3e" opacity="0.75"/><circle cx="111.0" cy="212.7" r="4.8" fill="#5f7e42" opacity="0.75"/><circle cx="72.1" cy="170.6" r="3.5" fill="#6a8a48" opacity="0.75"/><circle cx="62.3" cy="167.5" r="4.7" fill="#4e6e38" opacity="0.75"/><circle cx="159.6" cy="80.7" r="3.9" fill="#587a3e" opacity="0.75"/><circle cx="140.2" cy="114.1" r="3.9" fill="#5f7e42" opacity="0.75"/><circle cx="83.7" cy="247.3" r="3.1" fill="#5f7e42" opacity="0.75"/><circle cx="189.5" cy="91.0" r="2.5" fill="#7a9652" opacity="0.75"/><circle cx="72.7" cy="35.6" r="4.4" fill="#4e6e38" opacity="0.75"/><circle cx="230.0" cy="129.4" r="2.7" fill="#587a3e" opacity="0.75"/><circle cx="195.9" cy="73.9" r="2.9" fill="#73924c" opacity="0.75"/><circle cx="112.4" cy="37.7" r="2.6" fill="#587a3e" opacity="0.75"/><circle cx="88.8" cy="33.6" r="2.4" fill="#6a8a48" opacity="0.75"/><circle cx="137.7" cy="92.1" r="4.6" fill="#587a3e" opacity="0.75"/><circle cx="221.9" cy="211.4" r="2.8" fill="#6a8a48" opacity="0.75"/><circle cx="103.5" cy="298.3" r="2.0" fill="#94ac6c" opacity="0.5"/><circle cx="51.8" cy="169.3" r="1.9" fill="#94ac6c" opacity="0.5"/><circle cx="-2.9" cy="64.0" r="1.5" fill="#94ac6c" opacity="0.5"/><circle cx="210.3" cy="241.4" r="1.3" fill="#94ac6c" opacity="0.5"/><circle cx="62.0" cy="304.2" r="1.8" fill="#94ac6c" opacity="0.5"/><circle cx="156.3" cy="305.5" r="2.4" fill="#94ac6c" opacity="0.5"/><circle cx="73.1" cy="93.5" r="2.3" fill="#94ac6c" opacity="0.5"/><circle cx="107.2" cy="95.7" r="1.8" fill="#94ac6c" opacity="0.5"/><circle cx="-1.2" cy="235.5" r="2.3" fill="#94ac6c" opacity="0.5"/><circle cx="-1.9" cy="248.3" r="1.6" fill="#94ac6c" opacity="0.5"/><circle cx="171.6" cy="293.5" r="2.4" fill="#94ac6c" opacity="0.5"/><circle cx="75.0" cy="108.3" r="1.8" fill="#94ac6c" opacity="0.5"/><circle cx="176.5" cy="28.4" r="2.2" fill="#94ac6c" opacity="0.5"/><circle cx="196.1" cy="5.1" r="2.4" fill="#94ac6c" opacity="0.5"/><circle cx="209.9" cy="103.1" r="2.4" fill="#94ac6c" opacity="0.5"/><circle cx="36.0" cy="19.4" r="1.3" fill="#94ac6c" opacity="0.5"/><circle cx="156.7" cy="316.0" r="1.3" fill="#94ac6c" opacity="0.5"/><circle cx="89.4" cy="70.3" r="1.9" fill="#94ac6c" opacity="0.5"/><circle cx="209.9" cy="4.3" r="1.8" fill="#94ac6c" opacity="0.5"/><circle cx="191.4" cy="35.7" r="2.1" fill="#94ac6c" opacity="0.5"/><circle cx="142.9" cy="248.7" r="1.2" fill="#94ac6c" opacity="0.5"/><circle cx="95.9" cy="41.6" r="2.3" fill="#94ac6c" opacity="0.5"/><circle cx="62.8" cy="139.6" r="2.5" fill="#94ac6c" opacity="0.5"/><circle cx="109.0" cy="229.4" r="1.8" fill="#94ac6c" opacity="0.5"/><circle cx="82.2" cy="312.5" r="2.5" fill="#94ac6c" opacity="0.5"/><circle cx="141.9" cy="155.2" r="1.5" fill="#94ac6c" opacity="0.5"/><circle cx="14.5" cy="81.4" r="2.2" fill="#94ac6c" opacity="0.5"/><circle cx="198.1" cy="110.1" r="2.2" fill="#94ac6c" opacity="0.5"/><circle cx="79.7" cy="221.5" r="1.5" fill="#94ac6c" opacity="0.5"/><circle cx="108.1" cy="242.2" r="2.1" fill="#94ac6c" opacity="0.5"/><circle cx="62.9" cy="299.0" r="2.0" fill="#94ac6c" opacity="0.5"/><circle cx="52.9" cy="210.7" r="1.7" fill="#94ac6c" opacity="0.5"/><circle cx="145.4" cy="231.7" r="2.3" fill="#94ac6c" opacity="0.5"/><circle cx="75.9" cy="265.6" r="2.3" fill="#94ac6c" opacity="0.5"/><circle cx="116.4" cy="165.1" r="1.3" fill="#94ac6c" opacity="0.5"/><circle cx="191.2" cy="296.5" r="1.8" fill="#94ac6c" opacity="0.5"/><circle cx="156.7" cy="225.9" r="2.1" fill="#94ac6c" opacity="0.5"/><circle cx="34.2" cy="245.7" r="1.9" fill="#94ac6c" opacity="0.5"/><circle cx="150.7" cy="129.5" r="2.0" fill="#94ac6c" opacity="0.5"/><circle cx="147.0" cy="64.3" r="2.1" fill="#94ac6c" opacity="0.5"/><circle cx="142.6" cy="7.3" r="1.7" fill="#94ac6c" opacity="0.5"/><circle cx="47.5" cy="11.6" r="1.2" fill="#94ac6c" opacity="0.5"/><circle cx="2.3" cy="144.2" r="1.6" fill="#94ac6c" opacity="0.5"/><circle cx="207.0" cy="-6.0" r="1.6" fill="#94ac6c" opacity="0.5"/><circle cx="59.9" cy="126.6" r="1.2" fill="#94ac6c" opacity="0.5"/><circle cx="130.5" cy="302.9" r="2.3" fill="#94ac6c" opacity="0.5"/><circle cx="92.5" cy="256.2" r="2.0" fill="#94ac6c" opacity="0.5"/><circle cx="80.8" cy="39.5" r="1.9" fill="#94ac6c" opacity="0.5"/><circle cx="126.3" cy="302.4" r="2.5" fill="#94ac6c" opacity="0.5"/><circle cx="-6.1" cy="28.5" r="1.9" fill="#94ac6c" opacity="0.5"/><circle cx="62.6" cy="308.0" r="1.6" fill="#94ac6c" opacity="0.5"/><circle cx="55.0" cy="310.6" r="1.8" fill="#94ac6c" opacity="0.5"/><circle cx="109.8" cy="86.3" r="1.8" fill="#94ac6c" opacity="0.5"/><circle cx="-2.9" cy="166.0" r="1.5" fill="#94ac6c" opacity="0.5"/><circle cx="214.7" cy="246.5" r="1.4" fill="#94ac6c" opacity="0.5"/><circle cx="56.4" cy="43.2" r="2.5" fill="#94ac6c" opacity="0.5"/><circle cx="21.8" cy="239.5" r="1.5" fill="#94ac6c" opacity="0.5"/><circle cx="119.8" cy="102.5" r="1.5" fill="#94ac6c" opacity="0.5"/><circle cx="170.0" cy="185.0" r="1.1" fill="#94ac6c" opacity="0.5"/><circle cx="52.9" cy="140.5" r="2.4" fill="#94ac6c" opacity="0.5"/><circle cx="142.5" cy="148.9" r="2.4" fill="#94ac6c" opacity="0.5"/><circle cx="95.6" cy="85.9" r="2.2" fill="#94ac6c" opacity="0.5"/><circle cx="9.5" cy="67.7" r="2.3" fill="#94ac6c" opacity="0.5"/><circle cx="181.1" cy="208.6" r="1.1" fill="#94ac6c" opacity="0.5"/><circle cx="162.1" cy="37.4" r="1.5" fill="#94ac6c" opacity="0.5"/><circle cx="4.1" cy="28.8" r="1.6" fill="#94ac6c" opacity="0.5"/><circle cx="10.6" cy="12.2" r="1.9" fill="#94ac6c" opacity="0.5"/><circle cx="95.5" cy="95.2" r="1.9" fill="#94ac6c" opacity="0.5"/><circle cx="109.4" cy="297.0" r="1.6" fill="#94ac6c" opacity="0.5"/><circle cx="7.2" cy="219.3" r="1.3" fill="#94ac6c" opacity="0.5"/><circle cx="142.3" cy="156.7" r="2.4" fill="#94ac6c" opacity="0.5"/><circle cx="81.7" cy="232.0" r="1.3" fill="#94ac6c" opacity="0.5"/><circle cx="151.8" cy="23.6" r="1.2" fill="#94ac6c" opacity="0.5"/><circle cx="133.5" cy="70.4" r="2.3" fill="#94ac6c" opacity="0.5"/><circle cx="29.1" cy="301.0" r="2.1" fill="#94ac6c" opacity="0.5"/><circle cx="141.5" cy="108.4" r="1.4" fill="#94ac6c" opacity="0.5"/><circle cx="146.7" cy="253.6" r="1.7" fill="#94ac6c" opacity="0.5"/><circle cx="168.8" cy="121.9" r="1.2" fill="#94ac6c" opacity="0.5"/><circle cx="104.6" cy="281.0" r="2.0" fill="#94ac6c" opacity="0.5"/><circle cx="95.3" cy="144.5" r="1.2" fill="#94ac6c" opacity="0.5"/><circle cx="85.1" cy="278.4" r="1.3" fill="#94ac6c" opacity="0.5"/><circle cx="54.0" cy="83.7" r="1.3" fill="#94ac6c" opacity="0.5"/><circle cx="61.5" cy="69.7" r="1.8" fill="#94ac6c" opacity="0.5"/><circle cx="62.2" cy="211.3" r="2.1" fill="#94ac6c" opacity="0.5"/><circle cx="32.7" cy="59.2" r="1.1" fill="#94ac6c" opacity="0.5"/><circle cx="60.3" cy="230.0" r="2.1" fill="#94ac6c" opacity="0.5"/><circle cx="32.1" cy="71.2" r="2.0" fill="#94ac6c" opacity="0.5"/><circle cx="10.5" cy="284.0" r="1.8" fill="#94ac6c" opacity="0.5"/><circle cx="54.2" cy="125.5" r="1.5" fill="#94ac6c" opacity="0.5"/><circle cx="36.2" cy="158.1" r="1.6" fill="#94ac6c" opacity="0.5"/><circle cx="119.3" cy="21.2" r="1.5" fill="#94ac6c" opacity="0.5"/><circle cx="18.8" cy="168.3" r="2.4" fill="#94ac6c" opacity="0.5"/><circle cx="-2.2" cy="168.0" r="1.8" fill="#94ac6c" opacity="0.5"/><circle cx="128.4" cy="115.2" r="2.0" fill="#94ac6c" opacity="0.5"/><circle cx="100.0" cy="260.9" r="1.4" fill="#94ac6c" opacity="0.5"/><circle cx="176.2" cy="258.6" r="1.5" fill="#94ac6c" opacity="0.5"/><circle cx="24.6" cy="20.5" r="1.4" fill="#94ac6c" opacity="0.5"/><circle cx="13.5" cy="132.1" r="1.9" fill="#94ac6c" opacity="0.5"/><circle cx="51.4" cy="13.4" r="2.1" fill="#94ac6c" opacity="0.5"/><circle cx="82.0" cy="25.6" r="1.7" fill="#94ac6c" opacity="0.5"/><circle cx="67.8" cy="236.7" r="1.9" fill="#94ac6c" opacity="0.5"/><circle cx="33.5" cy="78.4" r="2.0" fill="#94ac6c" opacity="0.5"/><circle cx="60.8" cy="14.0" r="2.2" fill="#94ac6c" opacity="0.5"/><circle cx="125.7" cy="3.1" r="1.1" fill="#94ac6c" opacity="0.5"/><circle cx="24.1" cy="108.7" r="2.3" fill="#94ac6c" opacity="0.5"/><circle cx="79.8" cy="100.9" r="1.1" fill="#94ac6c" opacity="0.5"/><circle cx="160.7" cy="137.4" r="2.4" fill="#94ac6c" opacity="0.5"/><circle cx="102.6" cy="134.0" r="1.7" fill="#94ac6c" opacity="0.5"/><circle cx="174.8" cy="296.1" r="1.8" fill="#94ac6c" opacity="0.5"/><circle cx="92.2" cy="10.1" r="2.5" fill="#94ac6c" opacity="0.5"/><circle cx="52.0" cy="310.7" r="2.3" fill="#94ac6c" opacity="0.5"/><circle cx="16.6" cy="225.1" r="2.4" fill="#94ac6c" opacity="0.5"/><circle cx="154.8" cy="272.4" r="2.0" fill="#94ac6c" opacity="0.5"/><circle cx="83.9" cy="147.3" r="2.1" fill="#94ac6c" opacity="0.5"/><circle cx="14.2" cy="108.6" r="1.9" fill="#94ac6c" opacity="0.5"/><circle cx="173.2" cy="224.7" r="1.5" fill="#94ac6c" opacity="0.5"/><circle cx="212.8" cy="82.2" r="2.1" fill="#94ac6c" opacity="0.5"/><circle cx="219.4" cy="283.3" r="2.1" fill="#94ac6c" opacity="0.5"/><circle cx="115.9" cy="283.4" r="1.4" fill="#94ac6c" opacity="0.5"/><circle cx="85.6" cy="51.1" r="2.0" fill="#94ac6c" opacity="0.5"/><circle cx="205.9" cy="287.6" r="2.0" fill="#94ac6c" opacity="0.5"/><circle cx="84.8" cy="28.7" r="2.1" fill="#94ac6c" opacity="0.5"/><circle cx="124.5" cy="224.9" r="1.6" fill="#94ac6c" opacity="0.5"/><circle cx="56.5" cy="194.3" r="2.4" fill="#94ac6c" opacity="0.5"/><circle cx="33.0" cy="197.8" r="2.2" fill="#94ac6c" opacity="0.5"/><circle cx="189.4" cy="277.3" r="2.1" fill="#94ac6c" opacity="0.5"/><circle cx="136.9" cy="306.3" r="1.3" fill="#94ac6c" opacity="0.5"/><circle cx="0.9" cy="31.0" r="1.9" fill="#94ac6c" opacity="0.5"/><circle cx="136.5" cy="53.4" r="1.3" fill="#94ac6c" opacity="0.5"/><circle cx="190.9" cy="303.1" r="1.5" fill="#94ac6c" opacity="0.5"/><circle cx="17.9" cy="56.6" r="1.3" fill="#94ac6c" opacity="0.5"/><circle cx="211.7" cy="302.7" r="2.0" fill="#94ac6c" opacity="0.5"/><circle cx="221.9" cy="27.5" r="1.2" fill="#94ac6c" opacity="0.5"/><circle cx="9.1" cy="60.5" r="1.6" fill="#94ac6c" opacity="0.5"/><circle cx="13.5" cy="123.9" r="1.8" fill="#94ac6c" opacity="0.5"/><circle cx="82.2" cy="31.6" r="1.9" fill="#94ac6c" opacity="0.5"/><circle cx="221.4" cy="299.4" r="1.2" fill="#94ac6c" opacity="0.5"/><circle cx="173.3" cy="226.9" r="1.5" fill="#94ac6c" opacity="0.5"/><circle cx="21.5" cy="148.6" r="1.6" fill="#94ac6c" opacity="0.5"/><circle cx="167.9" cy="290.5" r="1.6" fill="#94ac6c" opacity="0.5"/><circle cx="62.1" cy="154.6" r="2.1" fill="#94ac6c" opacity="0.5"/><circle cx="180.1" cy="179.9" r="1.5" fill="#94ac6c" opacity="0.5"/><circle cx="121.0" cy="118.0" r="2.4" fill="#94ac6c" opacity="0.5"/><circle cx="84.5" cy="161.1" r="1.1" fill="#94ac6c" opacity="0.5"/><circle cx="45.4" cy="308.5" r="1.7" fill="#94ac6c" opacity="0.5"/><circle cx="86.5" cy="245.2" r="1.7" fill="#94ac6c" opacity="0.5"/><circle cx="144.3" cy="5.9" r="1.1" fill="#94ac6c" opacity="0.5"/><circle cx="188.7" cy="289.5" r="1.6" fill="#94ac6c" opacity="0.5"/><circle cx="93.2" cy="81.3" r="1.7" fill="#94ac6c" opacity="0.5"/><circle cx="83.3" cy="283.2" r="2.4" fill="#94ac6c" opacity="0.5"/><circle cx="39.8" cy="-0.7" r="2.3" fill="#94ac6c" opacity="0.5"/><circle cx="171.4" cy="113.9" r="2.2" fill="#94ac6c" opacity="0.5"/><circle cx="145.7" cy="115.0" r="1.6" fill="#94ac6c" opacity="0.5"/><circle cx="106.0" cy="181.1" r="2.5" fill="#94ac6c" opacity="0.5"/><circle cx="50.8" cy="177.7" r="1.4" fill="#94ac6c" opacity="0.5"/><circle cx="122.8" cy="230.4" r="1.2" fill="#94ac6c" opacity="0.5"/><circle cx="107.8" cy="222.2" r="1.1" fill="#94ac6c" opacity="0.5"/><circle cx="112.0" cy="6.2" r="1.6" fill="#94ac6c" opacity="0.5"/><circle cx="99.5" cy="204.8" r="2.4" fill="#94ac6c" opacity="0.5"/><circle cx="11.7" cy="138.4" r="2.1" fill="#94ac6c" opacity="0.5"/><circle cx="118.1" cy="118.8" r="2.4" fill="#94ac6c" opacity="0.5"/><circle cx="64.0" cy="171.6" r="2.3" fill="#94ac6c" opacity="0.5"/><circle cx="127.3" cy="60.8" r="1.7" fill="#94ac6c" opacity="0.5"/><circle cx="5.9" cy="232.6" r="1.9" fill="#94ac6c" opacity="0.5"/><circle cx="-4.3" cy="7.4" r="2.3" fill="#94ac6c" opacity="0.5"/><circle cx="110.9" cy="275.6" r="1.1" fill="#94ac6c" opacity="0.5"/><circle cx="132.5" cy="31.4" r="2.1" fill="#94ac6c" opacity="0.5"/><circle cx="218.2" cy="30.0" r="1.1" fill="#94ac6c" opacity="0.5"/><circle cx="155.6" cy="24.2" r="1.1" fill="#94ac6c" opacity="0.5"/><circle cx="163.7" cy="16.0" r="2.0" fill="#94ac6c" opacity="0.5"/><circle cx="217.6" cy="60.5" r="1.2" fill="#94ac6c" opacity="0.5"/><circle cx="140.8" cy="204.2" r="1.3" fill="#94ac6c" opacity="0.5"/><circle cx="26.3" cy="152.2" r="2.1" fill="#94ac6c" opacity="0.5"/><circle cx="98.8" cy="178.5" r="2.4" fill="#94ac6c" opacity="0.5"/><circle cx="28.0" cy="80.2" r="1.8" fill="#94ac6c" opacity="0.5"/><circle cx="120.2" cy="284.4" r="1.9" fill="#94ac6c" opacity="0.5"/><circle cx="54.5" cy="108.8" r="2.4" fill="#94ac6c" opacity="0.5"/><circle cx="219.1" cy="31.1" r="2.2" fill="#94ac6c" opacity="0.5"/><circle cx="73.0" cy="26.8" r="2.0" fill="#94ac6c" opacity="0.5"/><circle cx="193.5" cy="182.3" r="1.1" fill="#94ac6c" opacity="0.5"/><circle cx="84.1" cy="199.0" r="2.1" fill="#94ac6c" opacity="0.5"/><circle cx="91.1" cy="275.1" r="1.1" fill="#94ac6c" opacity="0.5"/><circle cx="64.4" cy="51.4" r="2.4" fill="#94ac6c" opacity="0.5"/><circle cx="18.6" cy="128.4" r="1.4" fill="#94ac6c" opacity="0.5"/><circle cx="123.8" cy="308.1" r="1.7" fill="#94ac6c" opacity="0.5"/><circle cx="83.4" cy="198.0" r="2.4" fill="#94ac6c" opacity="0.5"/><circle cx="70.6" cy="255.6" r="1.8" fill="#94ac6c" opacity="0.5"/><circle cx="26.2" cy="10.6" r="2.4" fill="#94ac6c" opacity="0.5"/><circle cx="103.3" cy="136.4" r="2.4" fill="#94ac6c" opacity="0.5"/><circle cx="169.4" cy="76.5" r="1.7" fill="#94ac6c" opacity="0.5"/><circle cx="41.3" cy="218.0" r="2.1" fill="#94ac6c" opacity="0.5"/><circle cx="18.3" cy="316.3" r="1.2" fill="#94ac6c" opacity="0.5"/><circle cx="33.4" cy="22.8" r="1.7" fill="#94ac6c" opacity="0.5"/><circle cx="140.3" cy="271.0" r="1.3" fill="#94ac6c" opacity="0.5"/><circle cx="53.6" cy="109.3" r="1.1" fill="#94ac6c" opacity="0.5"/><circle cx="133.4" cy="200.2" r="1.8" fill="#94ac6c" opacity="0.5"/><circle cx="92.4" cy="127.2" r="2.5" fill="#94ac6c" opacity="0.5"/><circle cx="165.1" cy="-6.4" r="2.4" fill="#94ac6c" opacity="0.5"/><circle cx="73.9" cy="230.1" r="1.8" fill="#94ac6c" opacity="0.5"/><circle cx="161.3" cy="191.9" r="2.2" fill="#94ac6c" opacity="0.5"/><circle cx="31.8" cy="154.0" r="1.1" fill="#94ac6c" opacity="0.5"/><circle cx="3.9" cy="166.6" r="1.8" fill="#94ac6c" opacity="0.5"/><circle cx="194.6" cy="70.3" r="2.3" fill="#94ac6c" opacity="0.5"/><circle cx="48.3" cy="82.7" r="1.1" fill="#94ac6c" opacity="0.5"/><circle cx="148.4" cy="181.3" r="2.1" fill="#94ac6c" opacity="0.5"/><circle cx="112.8" cy="134.4" r="1.5" fill="#94ac6c" opacity="0.5"/><circle cx="167.2" cy="114.0" r="1.9" fill="#94ac6c" opacity="0.5"/><circle cx="172.3" cy="137.1" r="2.1" fill="#94ac6c" opacity="0.5"/><circle cx="7.9" cy="77.5" r="2.3" fill="#94ac6c" opacity="0.5"/><circle cx="181.3" cy="241.5" r="2.0" fill="#94ac6c" opacity="0.5"/><circle cx="139.0" cy="-0.1" r="2.4" fill="#94ac6c" opacity="0.5"/><circle cx="227.7" cy="59.2" r="1.1" fill="#94ac6c" opacity="0.5"/><circle cx="74.1" cy="26.2" r="1.6" fill="#94ac6c" opacity="0.5"/><circle cx="94.7" cy="90.4" r="2.1" fill="#94ac6c" opacity="0.5"/><circle cx="196.5" cy="214.0" r="2.2" fill="#94ac6c" opacity="0.5"/><circle cx="162.5" cy="137.3" r="1.3" fill="#94ac6c" opacity="0.5"/><circle cx="70.8" cy="74.4" r="2.1" fill="#94ac6c" opacity="0.5"/><circle cx="175.3" cy="55.7" r="1.8" fill="#94ac6c" opacity="0.5"/><circle cx="219.9" cy="263.3" r="1.5" fill="#94ac6c" opacity="0.5"/><circle cx="212.3" cy="19.9" r="1.3" fill="#94ac6c" opacity="0.5"/><circle cx="172.1" cy="147.7" r="2.2" fill="#94ac6c" opacity="0.5"/><circle cx="97.9" cy="259.8" r="1.4" fill="#94ac6c" opacity="0.5"/><circle cx="63.7" cy="257.9" r="1.2" fill="#94ac6c" opacity="0.5"/><circle cx="177.3" cy="93.5" r="2.0" fill="#94ac6c" opacity="0.5"/><circle cx="144.8" cy="289.5" r="2.0" fill="#94ac6c" opacity="0.5"/><circle cx="3.4" cy="159.5" r="1.7" fill="#94ac6c" opacity="0.5"/><circle cx="98.5" cy="42.8" r="1.5" fill="#94ac6c" opacity="0.5"/><circle cx="99.6" cy="16.5" r="2.0" fill="#94ac6c" opacity="0.5"/><circle cx="51.6" cy="87.9" r="1.2" fill="#94ac6c" opacity="0.5"/><circle cx="65.4" cy="294.7" r="1.5" fill="#94ac6c" opacity="0.5"/><circle cx="15.9" cy="104.9" r="2.4" fill="#94ac6c" opacity="0.5"/><circle cx="14.8" cy="104.6" r="1.4" fill="#94ac6c" opacity="0.5"/><circle cx="155.1" cy="143.2" r="1.2" fill="#94ac6c" opacity="0.5"/><circle cx="197.0" cy="99.5" r="2.1" fill="#94ac6c" opacity="0.5"/><circle cx="101.1" cy="275.8" r="1.1" fill="#94ac6c" opacity="0.5"/><circle cx="47.8" cy="86.2" r="1.4" fill="#94ac6c" opacity="0.5"/><circle cx="24.4" cy="135.1" r="2.3" fill="#94ac6c" opacity="0.5"/><circle cx="133.1" cy="50.4" r="1.7" fill="#94ac6c" opacity="0.5"/><circle cx="140.2" cy="267.8" r="1.3" fill="#94ac6c" opacity="0.5"/><circle cx="20.1" cy="279.8" r="1.6" fill="#94ac6c" opacity="0.5"/><circle cx="85.3" cy="270.0" r="2.5" fill="#94ac6c" opacity="0.5"/><circle cx="102.1" cy="83.8" r="1.3" fill="#94ac6c" opacity="0.5"/><circle cx="91.0" cy="294.8" r="1.6" fill="#94ac6c" opacity="0.5"/><circle cx="138.7" cy="140.8" r="1.5" fill="#94ac6c" opacity="0.5"/><circle cx="1.9" cy="257.9" r="2.0" fill="#94ac6c" opacity="0.5"/><circle cx="51.2" cy="154.9" r="1.9" fill="#94ac6c" opacity="0.5"/><circle cx="65.9" cy="103.0" r="1.9" fill="#94ac6c" opacity="0.5"/><circle cx="32.5" cy="295.9" r="1.1" fill="#94ac6c" opacity="0.5"/><circle cx="4.0" cy="65.6" r="2.5" fill="#94ac6c" opacity="0.5"/><circle cx="179.8" cy="65.2" r="1.7" fill="#94ac6c" opacity="0.5"/><circle cx="1.7" cy="33.5" r="1.3" fill="#94ac6c" opacity="0.5"/><circle cx="178.8" cy="76.4" r="1.3" fill="#94ac6c" opacity="0.5"/><circle cx="164.1" cy="152.8" r="1.1" fill="#94ac6c" opacity="0.5"/><circle cx="65.3" cy="267.8" r="2.3" fill="#94ac6c" opacity="0.5"/><circle cx="165.5" cy="229.5" r="2.4" fill="#94ac6c" opacity="0.5"/><circle cx="102.2" cy="33.0" r="1.2" fill="#94ac6c" opacity="0.5"/><circle cx="180.7" cy="89.5" r="1.3" fill="#94ac6c" opacity="0.5"/><circle cx="42.1" cy="208.2" r="1.9" fill="#94ac6c" opacity="0.5"/><circle cx="60.5" cy="230.0" r="1.4" fill="#94ac6c" opacity="0.5"/><circle cx="211.0" cy="32.0" r="1.9" fill="#94ac6c" opacity="0.5"/><circle cx="160.1" cy="230.3" r="1.8" fill="#94ac6c" opacity="0.5"/><circle cx="37.7" cy="144.1" r="1.9" fill="#94ac6c" opacity="0.5"/><circle cx="105.5" cy="162.0" r="2.3" fill="#94ac6c" opacity="0.5"/><circle cx="148.6" cy="94.8" r="1.5" fill="#94ac6c" opacity="0.5"/><circle cx="39.2" cy="26.3" r="2.4" fill="#94ac6c" opacity="0.5"/><circle cx="1.4" cy="81.3" r="1.3" fill="#94ac6c" opacity="0.5"/><circle cx="76.6" cy="218.1" r="2.0" fill="#94ac6c" opacity="0.5"/><circle cx="108.0" cy="41.8" r="2.0" fill="#94ac6c" opacity="0.5"/><circle cx="163.8" cy="147.8" r="1.8" fill="#94ac6c" opacity="0.5"/><circle cx="4.0" cy="156.7" r="2.0" fill="#94ac6c" opacity="0.5"/><circle cx="139.0" cy="191.9" r="2.0" fill="#94ac6c" opacity="0.5"/><circle cx="211.9" cy="222.1" r="2.1" fill="#94ac6c" opacity="0.5"/><circle cx="69.7" cy="223.9" r="2.5" fill="#94ac6c" opacity="0.5"/><circle cx="120.7" cy="248.4" r="2.3" fill="#94ac6c" opacity="0.5"/><circle cx="158.3" cy="303.0" r="2.2" fill="#94ac6c" opacity="0.5"/><circle cx="189.3" cy="14.7" r="1.7" fill="#94ac6c" opacity="0.5"/><circle cx="209.0" cy="299.0" r="2.2" fill="#94ac6c" opacity="0.5"/><circle cx="72.4" cy="242.3" r="1.8" fill="#94ac6c" opacity="0.5"/><circle cx="150.9" cy="199.2" r="2.3" fill="#94ac6c" opacity="0.5"/><circle cx="162.3" cy="307.2" r="1.8" fill="#94ac6c" opacity="0.5"/><circle cx="110.1" cy="206.0" r="1.9" fill="#94ac6c" opacity="0.5"/><circle cx="112.0" cy="7.7" r="1.3" fill="#94ac6c" opacity="0.5"/><circle cx="213.1" cy="83.5" r="1.5" fill="#94ac6c" opacity="0.5"/><circle cx="185.2" cy="71.5" r="2.0" fill="#94ac6c" opacity="0.5"/><circle cx="-5.9" cy="32.7" r="1.3" fill="#94ac6c" opacity="0.5"/><circle cx="67.5" cy="241.5" r="2.4" fill="#94ac6c" opacity="0.5"/><circle cx="142.6" cy="148.7" r="1.2" fill="#94ac6c" opacity="0.5"/><circle cx="117.7" cy="81.0" r="1.3" fill="#94ac6c" opacity="0.5"/><circle cx="122.0" cy="276.1" r="1.5" fill="#94ac6c" opacity="0.5"/><circle cx="216.6" cy="7.4" r="2.4" fill="#94ac6c" opacity="0.5"/><circle cx="94.1" cy="-5.0" r="1.4" fill="#94ac6c" opacity="0.5"/><circle cx="226.8" cy="224.8" r="2.1" fill="#94ac6c" opacity="0.5"/><circle cx="-4.7" cy="92.9" r="1.7" fill="#94ac6c" opacity="0.5"/><circle cx="208.7" cy="287.4" r="1.3" fill="#94ac6c" opacity="0.5"/><circle cx="94.5" cy="161.9" r="1.7" fill="#94ac6c" opacity="0.5"/><circle cx="67.0" cy="299.9" r="1.7" fill="#94ac6c" opacity="0.5"/><circle cx="93.8" cy="27.6" r="1.4" fill="#94ac6c" opacity="0.5"/><circle cx="152.5" cy="162.2" r="1.6" fill="#94ac6c" opacity="0.5"/><circle cx="28.9" cy="3.6" r="1.2" fill="#94ac6c" opacity="0.5"/><circle cx="89.2" cy="-3.2" r="2.0" fill="#94ac6c" opacity="0.5"/><circle cx="108.1" cy="16.3" r="1.2" fill="#94ac6c" opacity="0.5"/><circle cx="204.1" cy="180.7" r="1.5" fill="#94ac6c" opacity="0.5"/><circle cx="4.1" cy="280.4" r="2.4" fill="#94ac6c" opacity="0.5"/><circle cx="150.6" cy="10.1" r="1.7" fill="#94ac6c" opacity="0.5"/><circle cx="98.4" cy="282.6" r="2.4" fill="#94ac6c" opacity="0.5"/><circle cx="110.2" cy="247.3" r="1.2" fill="#94ac6c" opacity="0.5"/><circle cx="217.4" cy="273.3" r="1.8" fill="#94ac6c" opacity="0.5"/><circle cx="202.3" cy="89.2" r="2.5" fill="#94ac6c" opacity="0.5"/><circle cx="69.6" cy="291.9" r="2.3" fill="#94ac6c" opacity="0.5"/><circle cx="81.8" cy="80.1" r="1.7" fill="#94ac6c" opacity="0.5"/><circle cx="39.8" cy="232.3" r="2.2" fill="#94ac6c" opacity="0.5"/><circle cx="138.6" cy="147.3" r="2.1" fill="#94ac6c" opacity="0.5"/><circle cx="95.0" cy="56.8" r="1.4" fill="#94ac6c" opacity="0.5"/><circle cx="19.8" cy="5.1" r="2.4" fill="#94ac6c" opacity="0.5"/><circle cx="218.1" cy="106.4" r="1.7" fill="#94ac6c" opacity="0.5"/><circle cx="33.5" cy="278.9" r="2.4" fill="#94ac6c" opacity="0.5"/><circle cx="5.0" cy="142.3" r="1.4" fill="#94ac6c" opacity="0.5"/><circle cx="144.8" cy="109.8" r="1.5" fill="#94ac6c" opacity="0.5"/><circle cx="65.1" cy="189.9" r="1.8" fill="#94ac6c" opacity="0.5"/><circle cx="161.8" cy="56.3" r="1.7" fill="#94ac6c" opacity="0.5"/><circle cx="71.8" cy="76.5" r="1.1" fill="#94ac6c" opacity="0.5"/><circle cx="-0.8" cy="210.8" r="1.6" fill="#94ac6c" opacity="0.5"/><circle cx="96.2" cy="211.6" r="2.4" fill="#94ac6c" opacity="0.5"/><circle cx="158.6" cy="64.0" r="2.5" fill="#94ac6c" opacity="0.5"/><circle cx="36.9" cy="181.2" r="2.0" fill="#94ac6c" opacity="0.5"/><circle cx="61.4" cy="280.8" r="1.9" fill="#94ac6c" opacity="0.5"/><circle cx="61.3" cy="193.1" r="2.1" fill="#94ac6c" opacity="0.5"/><circle cx="148.9" cy="78.8" r="1.2" fill="#94ac6c" opacity="0.5"/><circle cx="19.4" cy="181.6" r="1.9" fill="#94ac6c" opacity="0.5"/><circle cx="224.2" cy="193.9" r="2.3" fill="#94ac6c" opacity="0.5"/><circle cx="22.6" cy="302.3" r="1.8" fill="#94ac6c" opacity="0.5"/><circle cx="170.3" cy="170.4" r="1.9" fill="#94ac6c" opacity="0.5"/><circle cx="130.1" cy="31.2" r="1.2" fill="#94ac6c" opacity="0.5"/><circle cx="185.9" cy="235.0" r="2.2" fill="#94ac6c" opacity="0.5"/><circle cx="84.8" cy="36.0" r="2.2" fill="#94ac6c" opacity="0.5"/><circle cx="58.1" cy="-5.7" r="1.9" fill="#94ac6c" opacity="0.5"/><circle cx="179.7" cy="183.3" r="2.5" fill="#94ac6c" opacity="0.5"/><circle cx="47.7" cy="229.9" r="1.7" fill="#94ac6c" opacity="0.5"/><circle cx="131.0" cy="91.6" r="1.4" fill="#94ac6c" opacity="0.5"/><circle cx="122.7" cy="189.5" r="2.4" fill="#94ac6c" opacity="0.5"/><circle cx="136.1" cy="155.0" r="2.0" fill="#94ac6c" opacity="0.5"/><circle cx="142.2" cy="125.7" r="1.4" fill="#94ac6c" opacity="0.5"/><circle cx="148.2" cy="151.7" r="2.3" fill="#94ac6c" opacity="0.5"/><circle cx="70.5" cy="106.9" r="2.2" fill="#94ac6c" opacity="0.5"/><circle cx="153.6" cy="130.9" r="2.4" fill="#94ac6c" opacity="0.5"/><circle cx="-0.4" cy="166.6" r="2.3" fill="#94ac6c" opacity="0.5"/><circle cx="150.0" cy="200.5" r="2.5" fill="#94ac6c" opacity="0.5"/><circle cx="27.7" cy="54.8" r="2.4" fill="#94ac6c" opacity="0.5"/><circle cx="111.5" cy="237.7" r="1.6" fill="#94ac6c" opacity="0.5"/><circle cx="50.4" cy="112.3" r="2.5" fill="#94ac6c" opacity="0.5"/><circle cx="154.1" cy="79.3" r="2.1" fill="#94ac6c" opacity="0.5"/><circle cx="10.9" cy="174.3" r="2.0" fill="#94ac6c" opacity="0.5"/><circle cx="68.5" cy="181.6" r="1.8" fill="#94ac6c" opacity="0.5"/><circle cx="179.8" cy="179.7" r="2.0" fill="#94ac6c" opacity="0.5"/><circle cx="127.2" cy="259.9" r="1.2" fill="#94ac6c" opacity="0.5"/><circle cx="174.2" cy="223.1" r="1.7" fill="#94ac6c" opacity="0.5"/><circle cx="57.2" cy="110.9" r="2.4" fill="#94ac6c" opacity="0.5"/><circle cx="102.5" cy="61.1" r="2.5" fill="#94ac6c" opacity="0.5"/><circle cx="224.9" cy="51.1" r="1.3" fill="#94ac6c" opacity="0.5"/><circle cx="166.0" cy="118.7" r="1.7" fill="#94ac6c" opacity="0.5"/><circle cx="41.8" cy="65.2" r="1.9" fill="#94ac6c" opacity="0.5"/><circle cx="95.0" cy="283.0" r="1.3" fill="#94ac6c" opacity="0.5"/><circle cx="78.7" cy="263.2" r="2.5" fill="#94ac6c" opacity="0.5"/><circle cx="157.9" cy="53.3" r="1.7" fill="#94ac6c" opacity="0.5"/><circle cx="32.8" cy="213.3" r="1.8" fill="#94ac6c" opacity="0.5"/><circle cx="62.8" cy="76.3" r="1.3" fill="#94ac6c" opacity="0.5"/><circle cx="21.2" cy="135.9" r="1.2" fill="#94ac6c" opacity="0.5"/><circle cx="116.8" cy="75.9" r="2.2" fill="#94ac6c" opacity="0.5"/><circle cx="121.1" cy="77.0" r="2.2" fill="#94ac6c" opacity="0.5"/><circle cx="92.1" cy="113.2" r="1.9" fill="#94ac6c" opacity="0.5"/><circle cx="-5.5" cy="144.3" r="2.4" fill="#94ac6c" opacity="0.5"/><circle cx="229.6" cy="249.0" r="1.7" fill="#94ac6c" opacity="0.5"/><circle cx="110.6" cy="297.1" r="1.9" fill="#94ac6c" opacity="0.5"/><circle cx="229.3" cy="301.3" r="1.1" fill="#94ac6c" opacity="0.5"/><circle cx="10.6" cy="102.9" r="2.3" fill="#94ac6c" opacity="0.5"/><circle cx="166.2" cy="80.2" r="1.7" fill="#94ac6c" opacity="0.5"/><circle cx="13.2" cy="61.6" r="1.9" fill="#94ac6c" opacity="0.5"/><circle cx="82.8" cy="142.1" r="1.7" fill="#94ac6c" opacity="0.5"/><circle cx="111.1" cy="57.5" r="1.7" fill="#94ac6c" opacity="0.5"/><circle cx="142.7" cy="172.5" r="1.5" fill="#94ac6c" opacity="0.5"/><circle cx="104.8" cy="125.0" r="2.0" fill="#94ac6c" opacity="0.5"/><circle cx="151.5" cy="72.6" r="1.4" fill="#94ac6c" opacity="0.5"/><circle cx="211.2" cy="40.5" r="2.1" fill="#94ac6c" opacity="0.5"/><circle cx="55.2" cy="152.4" r="1.7" fill="#94ac6c" opacity="0.5"/><circle cx="2.6" cy="39.5" r="2.1" fill="#94ac6c" opacity="0.5"/><circle cx="87.2" cy="315.9" r="1.9" fill="#94ac6c" opacity="0.5"/><circle cx="160.6" cy="43.6" r="1.2" fill="#94ac6c" opacity="0.5"/><circle cx="8.2" cy="219.6" r="2.5" fill="#94ac6c" opacity="0.5"/><circle cx="178.4" cy="224.8" r="1.7" fill="#94ac6c" opacity="0.5"/><circle cx="10.8" cy="40.2" r="2.4" fill="#94ac6c" opacity="0.5"/><circle cx="161.5" cy="296.2" r="1.3" fill="#94ac6c" opacity="0.5"/><circle cx="102.7" cy="68.6" r="2.2" fill="#94ac6c" opacity="0.5"/><circle cx="70.1" cy="144.7" r="2.5" fill="#94ac6c" opacity="0.5"/><circle cx="74.6" cy="280.4" r="2.4" fill="#94ac6c" opacity="0.5"/><circle cx="103.4" cy="170.5" r="2.3" fill="#94ac6c" opacity="0.5"/><circle cx="142.9" cy="280.9" r="1.4" fill="#94ac6c" opacity="0.5"/><circle cx="129.6" cy="66.1" r="2.4" fill="#94ac6c" opacity="0.5"/><circle cx="109.2" cy="210.9" r="2.5" fill="#94ac6c" opacity="0.5"/><circle cx="60.6" cy="165.7" r="2.5" fill="#94ac6c" opacity="0.5"/><circle cx="158.1" cy="79.2" r="2.1" fill="#94ac6c" opacity="0.5"/><circle cx="138.8" cy="112.6" r="2.0" fill="#94ac6c" opacity="0.5"/><circle cx="82.6" cy="246.2" r="1.6" fill="#94ac6c" opacity="0.5"/><circle cx="188.6" cy="90.1" r="1.3" fill="#94ac6c" opacity="0.5"/><circle cx="194.8" cy="72.8" r="1.5" fill="#94ac6c" opacity="0.5"/><circle cx="111.4" cy="36.7" r="1.4" fill="#94ac6c" opacity="0.5"/><circle cx="136.0" cy="90.4" r="2.4" fill="#94ac6c" opacity="0.5"/><circle cx="220.9" cy="210.4" r="1.5" fill="#94ac6c" opacity="0.5"/></g>
<g filter="url(#bl)">
<!-- soil -->
<path d="M57,66 L71,68 L70,78 L58,77 z" fill="#8a6650"/>
<path d="M44,84 L54,84 L54,91 L45,91 z" fill="#9a8870"/>
<!-- top-left dark roofs -->
<path d="M0,0 L29,0 L29,12 L14,14 L13,20 L0,22 z" fill="#62565a"/>
<!-- shed 1 -->
<path d="M0,22 L16,17.5 L45,43 L25,57 L0,37 z" fill="#d8d8d6"/>
<path d="M25,57 L45,43 L47,46 L27,61 z" fill="#6a6a66"/>
<path d="M0,37 L25,57 L25,60 L0,41 z" fill="#4a4a46"/>
<!-- shed 2 -->
<path d="M28,19 L40,11 L71,31 L49,43 z" fill="#dcdcda"/>
<path d="M28,19 L49,43 L46,45 L25,21 z" fill="#3a3a38"/>
<!-- small building top center -->
<path d="M140,4 L155,6 L156,28 L142,26 z" fill="#6a5e5a"/>
<!-- right top dark building -->
<path d="M113,28 L142,37 L144,56 L125,57 L113,44 z" fill="#5c5a5e"/>
<path d="M122,50 L144,52 L144,58 L124,58 z" fill="#38383c"/>
<path d="M91,27 L113,29 L113,40 L92,40 z" fill="#5e5a5a"/>
<path d="M91,27 L95,27 L94,40 L91,40 z" fill="#d0d0d0"/>
<!-- tan ground near shed -->
<path d="M169,44 L204,44 L207,56 L170,62 z" fill="#a89a78"/>
<!-- long white shed -->
<path d="M162,0 L185,0 L221,37 L204,47 z" fill="#dadad8"/>
<path d="M162,0 L204,47 L203,52 L160,5 z" fill="#3c3c3a"/>
<path d="M204,47 L221,37 L222,42 L207,52 z" fill="#888884"/>
<!-- parking -->
<path d="M181,62 L226,49 L226,94 L184,94 L182,78 z" fill="#8c8080"/>
<!-- path -->
<path d="M175,136 L226,150 L226,154 L175,139 z" fill="#a09a80"/>
<!-- V building left wing -->
<path d="M82,91 L113,96 L133,103 L138,112 L113,116 L103,118 L72,112 z" fill="#c8b2a2"/>
<path d="M72,112 L103,118 L103,123 L72,117 z" fill="#4e5058"/>
<path d="M63,97 L76,97 L76,121 L64,120 z" fill="#a8a090"/>
<!-- diagonal wing -->
<path d="M113,100 L134,103 L153,134 L150,156 L131,156 L132,137 L122,124 L113,116 z" fill="#ccb6a6"/>
<path d="M131,156 L132,137 L127,135 L126,156 z" fill="#3e3e44"/>
<!-- front small building -->
<path d="M91,121 L109,119 L113,127 L113,140 L100,144 L91,131 z" fill="#c2ae9e"/>
<!-- right house -->
<path d="M141,107 L172,94 L182,110 L156,122 z" fill="#ccb4a2"/>
<path d="M148,119 L156,122 L182,110 L182,124 L156,133 L150,128 z" fill="#727680"/>
<!-- driveway -->
<path d="M154,130 L175,128 L176,156 L156,156 z" fill="#8a8280"/>
<!-- left buildings lower -->
<path d="M0,115 L4,115 L4,127 L0,127 z" fill="#d0d0ce"/>
<path d="M0,137 L10,140 L14,156 L10,170 L0,172 z" fill="#d6d6d4"/>
<path d="M14.7,178 L33.8,164.8 L56,184 L38,200 z" fill="#c8b6aa"/>
<path d="M38,200 L56,184 L58,188 L40,204 z" fill="#4a4a44"/>
<path d="M43,225 L60,225 L62,234 L44,234 z" fill="#a0a6b4"/>
<path d="M44,234 L62,234 L66,247 L50,248 z" fill="#c8c4cc"/>
<!-- bottom V building -->
<path d="M113,156 L148,156 L148,172 L113,170 z" fill="#c8b2a2"/>
<path d="M113,169 L141,172 L141,184 L113,182 z" fill="#3a4a5a"/>
<path d="M148,156 L157,156 L157,162 L148,162 z" fill="#44444a"/>
<!-- parking lot + road -->
<path d="M125,183 L152,180 L156,206 L128,204 z" fill="#8c8886"/>
<path d="M158,150 L172,150 L175.6,177 L177.5,196.6 L187,212 L189,226 L189,235.5 L181.4,255 L171.7,274.5 L164,294 L169.7,313 L144.5,313 L134.7,294 L140.6,274.5 L146,255 L152,235.5 L164,226 L164,212 L154,196.6 L152,177 z" fill="#8e8e9a"/>
<!-- bottom right road + sidewalk -->
<path d="M226,248 L226,260 L186,313 L174,313 z" fill="#a89e86"/>
<path d="M226,260 L226,292 L204,313 L186,313 z" fill="#86828c"/>
<!-- red car -->
<rect x="128" y="200" width="4" height="6" fill="#b04030"/>
<!-- cars -->
<g fill="#e4e4e8">
<rect x="167.8" y="173.0" width="7.8" height="3.2"/>
<rect x="165.8" y="179.0" width="7.8" height="3.2"/>
<rect x="164.0" y="185.0" width="7.7" height="3.2"/>
<rect x="162.0" y="194.7" width="7.7" height="3.1"/>
<rect x="166.8" y="198.6" width="7.8" height="3.8"/>
<rect x="171.7" y="203.4" width="7.8" height="3.1"/>
<rect x="179.5" y="212.0" width="7.5" height="3.2"/>
<rect x="177.5" y="218.0" width="7.8" height="3.2"/>
<rect x="181.4" y="222.0" width="7.6" height="3.2"/>
<rect x="181.4" y="227.8" width="7.6" height="3.1"/>
<rect x="181.4" y="233.6" width="7.6" height="3.1"/>
<rect x="181.4" y="239.4" width="7.6" height="3.1"/>
<rect x="181.4" y="245.0" width="5.6" height="2.4"/>
<rect x="169.7" y="257.0" width="7.8" height="4.0"/>
<rect x="167.8" y="268.6" width="5.8" height="3.1"/>
<rect x="138.6" y="187.0" width="9.7" height="4.6"/>
<rect x="152.0" y="235.5" width="10.0" height="3.9"/>
<rect x="148.0" y="241.4" width="10.0" height="3.7"/>
<rect x="147.0" y="247.0" width="10.0" height="4.0"/>
<rect x="146.0" y="253.0" width="10.0" height="4.0"/>
<rect x="144.5" y="259.0" width="9.5" height="3.8"/>
<rect x="142.5" y="264.7" width="9.5" height="3.9"/>
<rect x="140.6" y="270.6" width="9.7" height="3.8"/>
<rect x="139.6" y="276.4" width="9.7" height="3.7"/>
<rect x="138.6" y="282.0" width="9.7" height="4.0"/>
<rect x="136.7" y="288.0" width="9.7" height="4.0"/>
<rect x="134.7" y="294.0" width="9.8" height="3.8"/>
<rect x="125" y="192.7" width="5" height="4"/><rect x="217" y="280" width="6" height="4"/><rect x="205" y="295" width="7" height="5"/>
</g>
<rect x="154" y="272.5" width="6" height="9" fill="#2a3040"/>
<rect x="158" y="304" width="9" height="7" fill="#2a4a7a"/>
<rect x="127" y="200.5" width="5" height="5.5" fill="#b04030"/>
</g>
</g></svg>

<!-- address -->
<div class="addr" style="left:37px;top:582px;font-size:17.6px;font-weight:bold;color:#5b9bd5;">Adresse</div>
<div class="addr" style="left:37px;top:606px;font-size:13px;letter-spacing:0.34px;">Rectorat de Mayotte</div>
<div class="addr" style="left:37px;top:627px;font-size:13px;letter-spacing:-0.4px;">BP 75</div>
<div class="addr" style="left:37px;top:647px;font-size:13px;letter-spacing:0.26px;">97 600 Mamoudzou</div>
<div class="addr" style="left:37px;top:668px;font-size:13px;letter-spacing:0.13px;">Tel. (standard) : 0269 61 10 24</div>
<div class="addr" style="left:37px;top:688px;font-size:13px;letter-spacing:0.5px;color:#3030c8;text-decoration:underline;">www.ac-mayotte.fr</div>

<!-- legend -->
<div class="lg" style="left:17px;top:741.2px;font-size:11px;letter-spacing:-0.4px;">CT EVS
CT S
DEC
DPC
DPE

DRAAC</div>
<div class="lg" style="left:80px;top:741.2px;">Conseiller technique établissements et vie scolaire
Conseiller technique sécurité
Division des examens et des concours
Division des personnels contractuels</div>
<div class="lg j" style="left:80px;top:805.2px;width:286px;">Division des personnels enseignants (titulaires 1<sup>er</sup> et</div>
<div class="lg" style="left:80px;top:821.2px;">2<sup>nd</sup> degré)
Délégué régional académique aux arts et à la culture</div>
<div class="lg" style="left:402px;top:741.2px;font-size:11px;letter-spacing:-0.4px;">DRAIO

DRANE
DRAFPIC

EAFC
EMS</div>
<div class="lg j" style="left:463px;top:741.2px;width:281px;">Délégué de région académique à l’information et à</div>
<div class="lg" style="left:463px;top:757.2px;">l’orientation
Délégué régional académique au numérique éducatif</div>
<div class="lg j" style="left:463px;top:789.2px;width:281px;">Délégué régional académique à la formation</div>
<div class="lg" style="left:463px;top:805.2px;">professionnelle initiale et continue
Ecole académique de formation continue
Equipe mobile de sécurité</div>
</body></html>
